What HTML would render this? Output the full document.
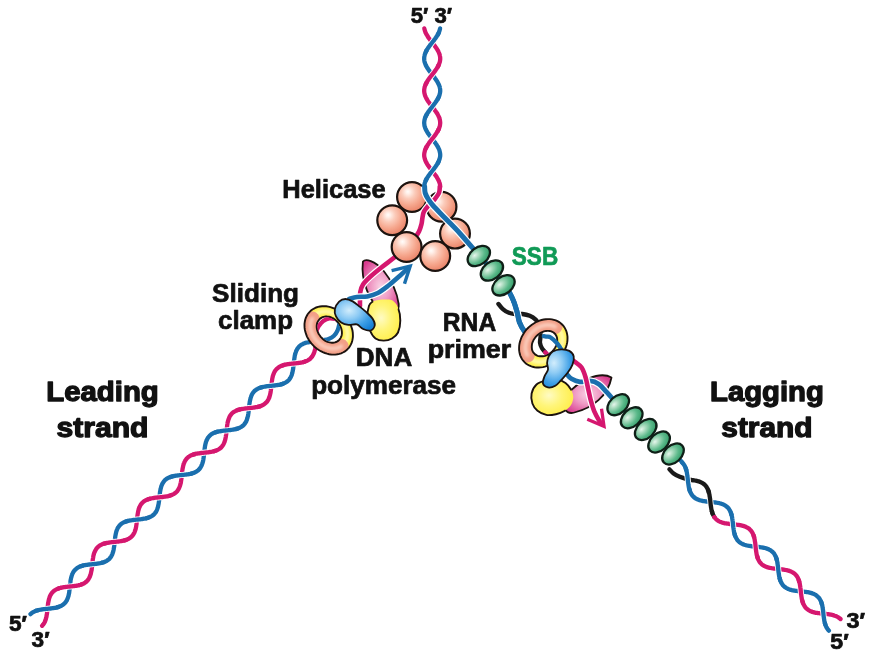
<!DOCTYPE html>
<html><head><meta charset="utf-8"><title>Replication fork</title>
<style>
html,body{margin:0;padding:0;background:#fff;}
svg{display:block;filter:blur(0.35px);}
text{font-family:"Liberation Sans",sans-serif;font-weight:bold;}
</style></head><body>
<svg width="878" height="670" viewBox="0 0 878 670">
<defs>
<filter id="blur" x="-20%" y="-20%" width="140%" height="140%"><feGaussianBlur stdDeviation="1.4"/></filter>
<radialGradient id="gSph" cx="0.40" cy="0.36" r="0.62" fx="0.36" fy="0.32">
 <stop offset="0" stop-color="#FFFDFB"/><stop offset="0.12" stop-color="#FFEFE8"/><stop offset="0.36" stop-color="#FBCBBA"/><stop offset="0.68" stop-color="#F6A88F"/><stop offset="1" stop-color="#EC886D"/>
</radialGradient>
<radialGradient id="gSSB" cx="0.42" cy="0.38" r="0.62" fx="0.38" fy="0.32">
 <stop offset="0" stop-color="#E6F6EC"/><stop offset="0.3" stop-color="#A5D9BB"/><stop offset="0.65" stop-color="#5BB98A"/><stop offset="1" stop-color="#359D6A"/>
</radialGradient>
<radialGradient id="gYel" cx="0.42" cy="0.45" r="0.6">
 <stop offset="0" stop-color="#FFFBC4"/><stop offset="0.5" stop-color="#FFF57A"/><stop offset="1" stop-color="#FFEE4A"/>
</radialGradient>
<radialGradient id="gBlu" cx="0.36" cy="0.36" r="0.75">
 <stop offset="0" stop-color="#D2EDFC"/><stop offset="0.35" stop-color="#8ECBF4"/><stop offset="0.7" stop-color="#3E9FE6"/><stop offset="1" stop-color="#1680D6"/>
</radialGradient>
<radialGradient id="gLeaf" cx="0.5" cy="0.5" r="0.6">
 <stop offset="0" stop-color="#F9D3E5"/><stop offset="0.45" stop-color="#EF9AC4"/><stop offset="1" stop-color="#D93B8E"/>
</radialGradient>

<clipPath id="noLeafL"><path clip-rule="evenodd" d="M0,0 H878 V670 H0 Z M362.9,261.6 C365.5,258.6 374.5,260.2 383.7,271.0 C391,280 397,292 398.7,304 C399.5,311 392,316 382,312 C370,302 360.5,282 362.9,261.6 Z"/></clipPath>
<clipPath id="holeL"><path d="M338.0,340.0 L337.3,340.6 L336.5,341.0 L335.7,341.4 L334.8,341.7 L333.8,341.9 L332.8,342.0 L331.8,342.0 L330.8,341.9 L329.8,341.7 L328.8,341.5 L327.7,341.1 L326.7,340.7 L325.7,340.1 L324.7,339.5 L323.8,338.8 L322.9,338.1 L322.0,337.2 L321.3,336.3 L320.5,335.4 L319.9,334.4 L319.3,333.4 L318.8,332.4 L318.3,331.3 L318.0,330.2 L317.7,329.2 L317.5,328.1 L317.4,327.0 L317.4,326.0 L317.5,324.9 L317.7,324.0 L318.0,323.0 L318.3,322.1 L318.8,321.3 L319.3,320.5 L319.9,319.8 L320.6,319.2 L321.3,318.6 L322.1,318.2 L322.9,317.8 L323.8,317.5 L324.8,317.3 L325.8,317.2 L326.8,317.2 L327.8,317.3 L328.8,317.5 L329.8,317.7 L330.9,318.1 L331.9,318.5 L332.9,319.1 L333.9,319.7 L334.8,320.4 L335.7,321.1 L336.6,322.0 L337.3,322.9 L338.1,323.8 L338.7,324.8 L339.3,325.8 L339.8,326.8 L340.3,327.9 L340.6,329.0 L340.9,330.0 L341.1,331.1 L341.2,332.2 L341.2,333.2 L341.1,334.3 L340.9,335.2 L340.6,336.2 L340.3,337.1 L339.8,337.9 L339.3,338.7 L338.7,339.4Z"/><path d="M333,300 L378,300 L378,332 L345,332 Z"/></clipPath>
<clipPath id="holeLo"><path d="M347.5,349.2 L346.1,350.5 L344.6,351.6 L342.9,352.5 L341.2,353.3 L339.3,353.9 L337.4,354.3 L335.3,354.6 L333.3,354.6 L331.2,354.5 L329.1,354.2 L327.0,353.7 L324.9,353.0 L322.8,352.2 L320.8,351.2 L318.8,350.0 L316.9,348.7 L315.1,347.3 L313.4,345.7 L311.8,344.0 L310.4,342.2 L309.1,340.3 L307.9,338.3 L306.9,336.3 L306.1,334.2 L305.4,332.1 L304.9,330.0 L304.6,327.9 L304.5,325.8 L304.5,323.8 L304.8,321.7 L305.2,319.8 L305.8,317.9 L306.6,316.2 L307.5,314.5 L308.6,313.0 L309.9,311.6 L311.3,310.3 L312.8,309.2 L314.5,308.3 L316.2,307.5 L318.1,306.9 L320.0,306.5 L322.1,306.2 L324.1,306.2 L326.2,306.3 L328.3,306.6 L330.4,307.1 L332.5,307.8 L334.6,308.6 L336.6,309.6 L338.6,310.8 L340.5,312.1 L342.3,313.5 L344.0,315.1 L345.6,316.8 L347.0,318.6 L348.3,320.5 L349.5,322.5 L350.5,324.5 L351.3,326.6 L352.0,328.7 L352.5,330.8 L352.8,332.9 L352.9,335.0 L352.9,337.0 L352.6,339.1 L352.2,341.0 L351.6,342.9 L350.8,344.6 L349.9,346.3 L348.8,347.8Z"/></clipPath>
<clipPath id="noLeafR"><path clip-rule="evenodd" d="M0,0 H878 V670 H0 Z M611.5,377.5 C600,371 578,380 566,396 C560,406 566,416 576,412 C592,408 608,396 611.5,377.5 Z"/></clipPath>
<clipPath id="holeR"><path d="M554.1,334.0 L554.7,334.7 L555.2,335.4 L555.7,336.2 L556.0,337.1 L556.3,338.0 L556.5,338.9 L556.6,339.9 L556.5,340.9 L556.4,341.9 L556.3,343.0 L556.0,344.1 L555.6,345.1 L555.2,346.1 L554.6,347.2 L554.0,348.1 L553.3,349.1 L552.6,350.0 L551.8,350.9 L550.9,351.7 L550.0,352.4 L549.0,353.1 L548.1,353.7 L547.0,354.3 L546.0,354.7 L545.0,355.1 L543.9,355.4 L542.9,355.6 L541.8,355.6 L540.8,355.7 L539.8,355.6 L538.9,355.4 L538.0,355.1 L537.1,354.8 L536.3,354.3 L535.6,353.8 L534.9,353.2 L534.3,352.5 L533.8,351.8 L533.3,351.0 L533.0,350.1 L532.7,349.2 L532.5,348.3 L532.4,347.3 L532.5,346.3 L532.6,345.3 L532.7,344.2 L533.0,343.1 L533.4,342.1 L533.8,341.1 L534.4,340.0 L535.0,339.1 L535.7,338.1 L536.4,337.2 L537.2,336.3 L538.1,335.5 L539.0,334.8 L540.0,334.1 L540.9,333.5 L542.0,332.9 L543.0,332.5 L544.0,332.1 L545.1,331.8 L546.1,331.7 L547.2,331.6 L548.2,331.5 L549.2,331.6 L550.1,331.8 L551.0,332.1 L551.9,332.4 L552.7,332.9 L553.4,333.4Z"/><path d="M552,338 L580,345 L580,392 L543,392 Z"/></clipPath>
<clipPath id="holeRo"><path d="M562.1,324.5 L563.4,325.9 L564.5,327.4 L565.4,329.1 L566.2,330.8 L566.8,332.7 L567.2,334.6 L567.5,336.7 L567.5,338.7 L567.4,340.8 L567.1,342.9 L566.6,345.0 L565.9,347.1 L565.1,349.2 L564.1,351.2 L562.9,353.2 L561.6,355.1 L560.2,356.9 L558.6,358.6 L556.9,360.2 L555.1,361.6 L553.2,362.9 L551.2,364.1 L549.2,365.1 L547.1,365.9 L545.0,366.6 L542.9,367.1 L540.8,367.4 L538.7,367.5 L536.7,367.5 L534.6,367.2 L532.7,366.8 L530.8,366.2 L529.1,365.4 L527.4,364.5 L525.9,363.4 L524.5,362.1 L523.2,360.7 L522.1,359.2 L521.2,357.5 L520.4,355.8 L519.8,353.9 L519.4,352.0 L519.1,349.9 L519.1,347.9 L519.2,345.8 L519.5,343.7 L520.0,341.6 L520.7,339.5 L521.5,337.4 L522.5,335.4 L523.7,333.4 L525.0,331.5 L526.4,329.7 L528.0,328.0 L529.7,326.4 L531.5,325.0 L533.4,323.7 L535.4,322.5 L537.4,321.5 L539.5,320.7 L541.6,320.0 L543.7,319.5 L545.8,319.2 L547.9,319.1 L549.9,319.1 L552.0,319.4 L553.9,319.8 L555.8,320.4 L557.5,321.2 L559.2,322.1 L560.7,323.2Z"/></clipPath></defs>
<rect width="878" height="670" fill="#ffffff"/>
<g id="helicase-back">
<circle cx="392.2" cy="220.2" r="14.9" fill="url(#gSph)" stroke="#1c130f" stroke-width="2.2"/>
<circle cx="412.0" cy="197.0" r="14.9" fill="url(#gSph)" stroke="#1c130f" stroke-width="2.2"/>
<circle cx="441.5" cy="206.7" r="14.9" fill="url(#gSph)" stroke="#1c130f" stroke-width="2.2"/>
<circle cx="455.0" cy="233.6" r="14.9" fill="url(#gSph)" stroke="#1c130f" stroke-width="2.2"/>
</g>
<path d="M362.9,261.6 C365.5,258.6 374.5,260.2 383.7,271.0 C391,280 397,292 398.7,304 C399.5,311 392,316 382,312 C370,302 360.5,282 362.9,261.6 Z" fill="url(#gLeaf)" stroke="#1c130f" stroke-width="1.8" stroke-linejoin="round"/>
<path d="M369.0,305.8 C370.0,302.9 371.5,302.4 373.1,301.4 C374.7,300.4 376.7,300.2 378.8,299.9 C380.9,299.6 383.7,299.5 386.0,299.6 C388.3,299.7 390.5,299.3 392.5,300.6 C394.5,301.9 396.7,304.2 398.0,307.5 C399.3,310.8 400.3,316.4 400.3,320.6 C400.3,324.8 399.4,329.5 398.0,332.5 C396.6,335.5 394.4,337.1 392.0,338.5 C389.6,339.9 386.4,340.6 383.7,340.6 C380.9,340.6 377.8,340.2 375.5,338.5 C373.2,336.8 371.4,333.8 370.0,330.5 C368.6,327.2 367.5,323.1 367.3,319.0 C367.1,314.9 368.0,308.7 369.0,305.8Z" fill="url(#gYel)"/>
<path d="M369.0,305.8 C370.0,302.9 371.5,302.4 373.1,301.4 C374.7,300.4 376.7,300.2 378.8,299.9 C380.9,299.6 383.7,299.5 386.0,299.6 C388.3,299.7 390.5,299.3 392.5,300.6 C394.5,301.9 396.7,304.2 398.0,307.5 C399.3,310.8 400.3,316.4 400.3,320.6 C400.3,324.8 399.4,329.5 398.0,332.5 C396.6,335.5 394.4,337.1 392.0,338.5 C389.6,339.9 386.4,340.6 383.7,340.6 C380.9,340.6 377.8,340.2 375.5,338.5 C373.2,336.8 371.4,333.8 370.0,330.5 C368.6,327.2 367.5,323.1 367.3,319.0 C367.1,314.9 368.0,308.7 369.0,305.8Z" fill="none" stroke="#1c130f" stroke-width="1.9" clip-path="url(#noLeafL)"/>
<path d="M439.8,186.5 C439.7,187.6 439.9,190.8 439.0,193.0 C438.1,195.2 436.2,197.4 434.5,199.5 C432.8,201.6 430.2,203.5 428.5,205.5 C426.8,207.5 425.0,209.5 424.0,211.5 C423.0,213.5 422.9,215.4 422.5,217.5 C422.1,219.6 422.1,221.7 421.5,224.0 C420.9,226.3 420.2,229.0 419.0,231.5 C417.8,234.0 416.2,236.2 414.0,239.0 C411.8,241.8 409.3,244.9 406.0,248.0 C402.7,251.1 398.0,254.6 394.0,257.8 C390.0,261.0 385.9,263.9 382.0,267.0 C378.1,270.1 373.7,273.6 370.5,276.5 C367.3,279.4 364.7,281.9 363.0,284.5 C361.3,287.1 360.8,289.4 360.3,292.0 C359.8,294.6 360.1,297.7 360.0,300.0 C359.9,302.3 360.0,305.0 360.0,306.0" fill="none" stroke="#ffffff" stroke-width="7.00" stroke-linecap="butt" stroke-linejoin="round" /><path d="M439.8,186.5 C439.7,187.6 439.9,190.8 439.0,193.0 C438.1,195.2 436.2,197.4 434.5,199.5 C432.8,201.6 430.2,203.5 428.5,205.5 C426.8,207.5 425.0,209.5 424.0,211.5 C423.0,213.5 422.9,215.4 422.5,217.5 C422.1,219.6 422.1,221.7 421.5,224.0 C420.9,226.3 420.2,229.0 419.0,231.5 C417.8,234.0 416.2,236.2 414.0,239.0 C411.8,241.8 409.3,244.9 406.0,248.0 C402.7,251.1 398.0,254.6 394.0,257.8 C390.0,261.0 385.9,263.9 382.0,267.0 C378.1,270.1 373.7,273.6 370.5,276.5 C367.3,279.4 364.7,281.9 363.0,284.5 C361.3,287.1 360.8,289.4 360.3,292.0 C359.8,294.6 360.1,297.7 360.0,300.0 C359.9,302.3 360.0,305.0 360.0,306.0" fill="none" stroke="#D5176F" stroke-width="4.60" stroke-linecap="round" stroke-linejoin="round" />
<path d="M349.0,299.0 C350.3,298.7 353.8,297.4 356.9,297.0 C359.9,296.6 363.8,297.1 367.3,296.4 C370.8,295.7 374.3,294.8 377.8,293.0 C381.3,291.2 384.7,288.5 388.2,285.8 C391.7,283.1 395.3,279.8 398.7,276.8 C402.1,273.8 406.7,269.4 408.3,267.9" fill="none" stroke="#ffffff" stroke-width="7.00" stroke-linecap="butt" stroke-linejoin="round" /><path d="M349.0,299.0 C350.3,298.7 353.8,297.4 356.9,297.0 C359.9,296.6 363.8,297.1 367.3,296.4 C370.8,295.7 374.3,294.8 377.8,293.0 C381.3,291.2 384.7,288.5 388.2,285.8 C391.7,283.1 395.3,279.8 398.7,276.8 C402.1,273.8 406.7,269.4 408.3,267.9" fill="none" stroke="#1A6FAE" stroke-width="4.60" stroke-linecap="round" stroke-linejoin="round" />
<path d="M391.6,270.6 L410.2,266.1 L404.5,283.8" fill="none" stroke="#1A6FAE" stroke-width="3.4" stroke-linejoin="miter" stroke-miterlimit="10" stroke-linecap="butt"/>
<circle cx="406.6" cy="247.0" r="14.9" fill="url(#gSph)" stroke="#1c130f" stroke-width="2.2"/>
<circle cx="435.2" cy="256.0" r="14.9" fill="url(#gSph)" stroke="#1c130f" stroke-width="2.2"/>
<g id="tophelix"><path d="M424.3,28.4 L424.5,29.2 L424.7,30.0 L424.9,30.8 L425.2,31.6 L425.5,32.5 L425.9,33.3 L426.3,34.1 L426.8,34.9 L427.3,35.7 L427.8,36.5 L428.3,37.4 L428.9,38.2 L429.5,39.0 L430.1,39.8 L430.7,40.6 L431.4,41.5 L432.0,42.3 L432.7,43.1 L433.3,43.9 L433.9,44.7 L434.5,45.5 L435.1,46.4 L435.7,47.2 L436.3,48.0 L436.8,48.8 L437.3,49.6 L437.8,50.5 L438.3,51.3 L438.6,52.1 L439.0,52.9 L439.3,53.7 L439.6,54.5 L439.8,55.4 L440.0,56.2 L440.1,57.0 L440.2,57.8 L440.2,58.6 L440.2,59.5 L440.1,60.3 L440.0,61.1 L439.8,61.9 L439.5,62.7 L439.3,63.5 L438.9,64.4 L438.6,65.2 L438.2,66.0 L437.7,66.8 L437.3,67.6 L436.7,68.4 L436.2,69.3 L435.6,70.1 L435.0,70.9 L434.4,71.7 L433.8,72.5 L433.2,73.4 L432.6,74.2 L431.9,75.0 L431.3,75.8 L430.6,76.6 L430.0,77.4 L429.4,78.3 L428.8,79.1 L428.3,79.9 L427.7,80.7 L427.2,81.5 L426.7,82.4 L426.3,83.2 L425.9,84.0 L425.5,84.8 L425.2,85.6 L424.9,86.4 L424.6,87.3 L424.5,88.1 L424.3,88.9 L424.2,89.7 L424.2,90.5 L424.2,91.4 L424.3,92.2 L424.4,93.0 L424.6,93.8 L424.8,94.6 L425.0,95.4 L425.4,96.3 L425.7,97.1 L426.1,97.9 L426.5,98.7 L427.0,99.5 L427.5,100.4 L428.0,101.2 L428.6,102.0 L429.2,102.8 L429.8,103.6 L430.4,104.4 L431.0,105.3 L431.7,106.1 L432.3,106.9 L433.0,107.7 L433.6,108.5 L434.2,109.3 L434.8,110.2 L435.4,111.0 L436.0,111.8 L436.5,112.6 L437.1,113.4 L437.6,114.3 L438.0,115.1 L438.4,115.9 L438.8,116.7 L439.2,117.5 L439.4,118.3 L439.7,119.2 L439.9,120.0 L440.0,120.8 L440.1,121.6 L440.2,122.4 L440.2,123.3 L440.1,124.1 L440.0,124.9 L439.9,125.7 L439.7,126.5 L439.4,127.3 L439.1,128.2 L438.8,129.0 L438.4,129.8 L438.0,130.6 L437.5,131.4 L437.0,132.3 L436.5,133.1 L435.9,133.9 L435.4,134.7 L434.8,135.5 L434.2,136.3 L433.5,137.2 L432.9,138.0 L432.3,138.8 L431.6,139.6 L431.0,140.4 L430.4,141.3 L429.7,142.1 L429.1,142.9 L428.6,143.7 L428.0,144.5 L427.5,145.3 L427.0,146.2 L426.5,147.0 L426.1,147.8 L425.7,148.6 L425.3,149.4 L425.0,150.3 L424.8,151.1 L424.6,151.9 L424.4,152.7 L424.3,153.5 L424.2,154.3 L424.2,155.2 L424.2,156.0 L424.3,156.8 L424.5,157.6 L424.7,158.4 L424.9,159.2 L425.2,160.1 L425.5,160.9 L425.9,161.7 L426.3,162.5 L426.8,163.3 L427.2,164.2 L427.8,165.0 L428.3,165.8 L428.9,166.6 L429.5,167.4 L430.1,168.2 L430.7,169.1 L431.3,169.9 L432.0,170.7 L432.6,171.5 L433.2,172.3 L433.9,173.2 L434.5,174.0 L435.1,174.8 L435.7,175.6 L436.3,176.4 L436.8,177.2 L437.3,178.1 L437.8,178.9 L438.2,179.7 L438.6,180.5 L439.0,181.3 L439.3,182.2 L439.6,183.0 L439.8,183.8 L440.0,184.6 L440.1,185.4 L440.2,186.2 L440.2,187.1" fill="none" stroke="#D5176F" stroke-width="4.30" stroke-linecap="round" stroke-linejoin="round" />
<path d="M440.1,28.4 L439.9,29.2 L439.7,30.0 L439.5,30.8 L439.2,31.6 L438.9,32.5 L438.5,33.3 L438.1,34.1 L437.6,34.9 L437.1,35.7 L436.6,36.5 L436.1,37.4 L435.5,38.2 L434.9,39.0 L434.3,39.8 L433.7,40.6 L433.0,41.5 L432.4,42.3 L431.7,43.1 L431.1,43.9 L430.5,44.7 L429.9,45.5 L429.3,46.4 L428.7,47.2 L428.1,48.0 L427.6,48.8 L427.1,49.6 L426.6,50.5 L426.1,51.3 L425.8,52.1 L425.4,52.9 L425.1,53.7 L424.8,54.5 L424.6,55.4 L424.4,56.2 L424.3,57.0 L424.2,57.8 L424.2,58.6 L424.2,59.5 L424.3,60.3 L424.4,61.1 L424.6,61.9 L424.9,62.7 L425.1,63.5 L425.5,64.4 L425.8,65.2 L426.2,66.0 L426.7,66.8 L427.1,67.6 L427.7,68.4 L428.2,69.3 L428.8,70.1 L429.4,70.9 L430.0,71.7 L430.6,72.5 L431.2,73.4 L431.8,74.2 L432.5,75.0 L433.1,75.8 L433.8,76.6 L434.4,77.4 L435.0,78.3 L435.6,79.1 L436.1,79.9 L436.7,80.7 L437.2,81.5 L437.7,82.4 L438.1,83.2 L438.5,84.0 L438.9,84.8 L439.2,85.6 L439.5,86.4 L439.8,87.3 L439.9,88.1 L440.1,88.9 L440.2,89.7 L440.2,90.5 L440.2,91.4 L440.1,92.2 L440.0,93.0 L439.8,93.8 L439.6,94.6 L439.4,95.4 L439.0,96.3 L438.7,97.1 L438.3,97.9 L437.9,98.7 L437.4,99.5 L436.9,100.4 L436.4,101.2 L435.8,102.0 L435.2,102.8 L434.6,103.6 L434.0,104.4 L433.4,105.3 L432.7,106.1 L432.1,106.9 L431.4,107.7 L430.8,108.5 L430.2,109.3 L429.6,110.2 L429.0,111.0 L428.4,111.8 L427.9,112.6 L427.3,113.4 L426.8,114.3 L426.4,115.1 L426.0,115.9 L425.6,116.7 L425.2,117.5 L425.0,118.3 L424.7,119.2 L424.5,120.0 L424.4,120.8 L424.3,121.6 L424.2,122.4 L424.2,123.3 L424.3,124.1 L424.4,124.9 L424.5,125.7 L424.7,126.5 L425.0,127.3 L425.3,128.2 L425.6,129.0 L426.0,129.8 L426.4,130.6 L426.9,131.4 L427.4,132.3 L427.9,133.1 L428.5,133.9 L429.0,134.7 L429.6,135.5 L430.2,136.3 L430.9,137.2 L431.5,138.0 L432.1,138.8 L432.8,139.6 L433.4,140.4 L434.0,141.3 L434.7,142.1 L435.3,142.9 L435.8,143.7 L436.4,144.5 L436.9,145.3 L437.4,146.2 L437.9,147.0 L438.3,147.8 L438.7,148.6 L439.1,149.4 L439.4,150.3 L439.6,151.1 L439.8,151.9 L440.0,152.7 L440.1,153.5 L440.2,154.3 L440.2,155.2 L440.2,156.0 L440.1,156.8 L439.9,157.6 L439.7,158.4 L439.5,159.2 L439.2,160.1 L438.9,160.9 L438.5,161.7 L438.1,162.5 L437.6,163.3 L437.2,164.2 L436.6,165.0 L436.1,165.8 L435.5,166.6 L434.9,167.4 L434.3,168.2 L433.7,169.1 L433.1,169.9 L432.4,170.7 L431.8,171.5 L431.2,172.3 L430.5,173.2 L429.9,174.0 L429.3,174.8 L428.7,175.6 L428.1,176.4 L427.6,177.2 L427.1,178.1 L426.6,178.9 L426.2,179.7 L425.8,180.5 L425.4,181.3 L425.1,182.2 L424.8,183.0 L424.6,183.8 L424.4,184.6 L424.3,185.4 L424.2,186.2 L424.2,187.1" fill="none" stroke="#1A6FAE" stroke-width="4.30" stroke-linecap="round" stroke-linejoin="round" />
<path d="M437.3,35.4 L436.8,36.2 L436.3,37.0 L435.8,37.8 L435.2,38.6 L434.6,39.4 L434.0,40.1 L433.4,40.9 L432.8,41.7 L432.2,42.5 L431.6,43.3 L431.0,44.1 L430.4,44.9 L429.8,45.6 L429.2,46.4 L428.6,47.2 L428.1,48.0 L427.6,48.8 L427.1,49.6" fill="none" stroke="#ffffff" stroke-width="6.00" stroke-linecap="butt" stroke-linejoin="round" />
<path d="M438.7,32.9 L438.3,33.7 L437.9,34.5 L437.4,35.3 L436.9,36.1 L436.4,36.9 L435.8,37.7 L435.3,38.5 L434.7,39.3 L434.1,40.1 L433.5,40.9 L432.8,41.7 L432.2,42.5 L431.6,43.3 L430.9,44.1 L430.3,44.9 L429.7,45.7 L429.1,46.5 L428.6,47.3 L428.0,48.1 L427.5,48.9 L427.0,49.7 L426.5,50.5 L426.1,51.3 L425.7,52.1" fill="none" stroke="#1A6FAE" stroke-width="4.30" stroke-linecap="round" stroke-linejoin="round" />
<path d="M437.3,67.6 L436.8,68.3 L436.3,69.1 L435.8,69.9 L435.2,70.7 L434.6,71.5 L434.0,72.3 L433.4,73.1 L432.8,73.8 L432.2,74.6 L431.6,75.4 L431.0,76.2 L430.4,77.0 L429.8,77.8 L429.2,78.6 L428.6,79.3 L428.1,80.1 L427.6,80.9 L427.1,81.7" fill="none" stroke="#ffffff" stroke-width="6.00" stroke-linecap="butt" stroke-linejoin="round" />
<path d="M438.7,65.0 L438.3,65.8 L437.9,66.6 L437.4,67.4 L436.9,68.2 L436.4,69.0 L435.8,69.8 L435.3,70.6 L434.7,71.4 L434.1,72.2 L433.5,73.0 L432.8,73.8 L432.2,74.6 L431.6,75.4 L430.9,76.2 L430.3,77.0 L429.7,77.8 L429.1,78.6 L428.6,79.4 L428.0,80.2 L427.5,81.0 L427.0,81.9 L426.5,82.7 L426.1,83.5 L425.7,84.3" fill="none" stroke="#D5176F" stroke-width="4.30" stroke-linecap="round" stroke-linejoin="round" />
<path d="M437.3,99.7 L436.8,100.5 L436.3,101.3 L435.8,102.0 L435.2,102.8 L434.6,103.6 L434.0,104.4 L433.4,105.2 L432.8,106.0 L432.2,106.8 L431.6,107.5 L431.0,108.3 L430.4,109.1 L429.8,109.9 L429.2,110.7 L428.6,111.5 L428.1,112.2 L427.6,113.0 L427.1,113.8" fill="none" stroke="#ffffff" stroke-width="6.00" stroke-linecap="butt" stroke-linejoin="round" />
<path d="M438.7,97.1 L438.3,97.9 L437.9,98.7 L437.4,99.5 L436.9,100.3 L436.4,101.1 L435.8,101.9 L435.3,102.7 L434.7,103.5 L434.1,104.3 L433.5,105.1 L432.8,105.9 L432.2,106.8 L431.6,107.6 L430.9,108.4 L430.3,109.2 L429.7,110.0 L429.1,110.8 L428.6,111.6 L428.0,112.4 L427.5,113.2 L427.0,114.0 L426.5,114.8 L426.1,115.6 L425.7,116.4" fill="none" stroke="#1A6FAE" stroke-width="4.30" stroke-linecap="round" stroke-linejoin="round" />
<path d="M437.3,131.8 L436.8,132.6 L436.3,133.4 L435.8,134.2 L435.2,134.9 L434.6,135.7 L434.0,136.5 L433.4,137.3 L432.8,138.1 L432.2,138.9 L431.6,139.7 L431.0,140.4 L430.4,141.2 L429.8,142.0 L429.2,142.8 L428.6,143.6 L428.1,144.4 L427.6,145.2 L427.1,145.9" fill="none" stroke="#ffffff" stroke-width="6.00" stroke-linecap="butt" stroke-linejoin="round" />
<path d="M438.7,129.2 L438.3,130.0 L437.9,130.8 L437.4,131.6 L436.9,132.4 L436.4,133.3 L435.8,134.1 L435.3,134.9 L434.7,135.7 L434.1,136.5 L433.5,137.3 L432.8,138.1 L432.2,138.9 L431.6,139.7 L430.9,140.5 L430.3,141.3 L429.7,142.1 L429.1,142.9 L428.6,143.7 L428.0,144.5 L427.5,145.3 L427.0,146.1 L426.5,146.9 L426.1,147.7 L425.7,148.5" fill="none" stroke="#D5176F" stroke-width="4.30" stroke-linecap="round" stroke-linejoin="round" />
<path d="M437.3,163.9 L436.8,164.7 L436.3,165.5 L435.8,166.3 L435.2,167.1 L434.6,167.9 L434.0,168.6 L433.4,169.4 L432.8,170.2 L432.2,171.0 L431.6,171.8 L431.0,172.6 L430.4,173.4 L429.8,174.1 L429.2,174.9 L428.6,175.7 L428.1,176.5 L427.6,177.3 L427.1,178.1" fill="none" stroke="#ffffff" stroke-width="6.00" stroke-linecap="butt" stroke-linejoin="round" />
<path d="M438.7,161.4 L438.3,162.2 L437.9,163.0 L437.4,163.8 L436.9,164.6 L436.4,165.4 L435.8,166.2 L435.3,167.0 L434.7,167.8 L434.1,168.6 L433.5,169.4 L432.8,170.2 L432.2,171.0 L431.6,171.8 L430.9,172.6 L430.3,173.4 L429.7,174.2 L429.1,175.0 L428.6,175.8 L428.0,176.6 L427.5,177.4 L427.0,178.2 L426.5,179.0 L426.1,179.8 L425.7,180.6" fill="none" stroke="#1A6FAE" stroke-width="4.30" stroke-linecap="round" stroke-linejoin="round" /></g>
<path d="M424.6,186.5 C424.7,187.6 424.6,190.8 425.2,193.0 C425.8,195.2 427.2,197.4 428.5,199.5 C429.8,201.6 430.2,202.4 433.0,205.5 C435.8,208.6 440.5,213.3 445.0,218.0 C449.5,222.7 454.4,227.3 460.0,233.5 C465.6,239.7 475.6,251.5 478.7,255.1" fill="none" stroke="#ffffff" stroke-width="7.40" stroke-linecap="butt" stroke-linejoin="round" /><path d="M424.6,186.5 C424.7,187.6 424.6,190.8 425.2,193.0 C425.8,195.2 427.2,197.4 428.5,199.5 C429.8,201.6 430.2,202.4 433.0,205.5 C435.8,208.6 440.5,213.3 445.0,218.0 C449.5,222.7 454.4,227.3 460.0,233.5 C465.6,239.7 475.6,251.5 478.7,255.1" fill="none" stroke="#1A6FAE" stroke-width="5.00" stroke-linecap="round" stroke-linejoin="round" />
<path d="M478.7,255.1 C480.9,257.6 487.9,265.2 492.1,270.3 C496.3,275.4 500.8,281.8 503.7,285.5 C506.6,289.2 507.9,289.9 509.6,292.7 C511.3,295.5 512.9,299.2 514.1,302.4 C515.4,305.6 516.2,308.9 517.1,312.1 C518.0,315.3 518.0,318.6 519.3,321.8 C520.5,325.0 522.6,328.8 524.6,331.5 C526.6,334.2 529.9,336.9 531.0,338.0" fill="none" stroke="#1A6FAE" stroke-width="5.00" stroke-linecap="round" stroke-linejoin="round" />
<path d="M498.4,303.9 C499.1,304.8 501.1,307.6 502.9,309.1 C504.6,310.6 506.9,312.0 508.9,312.8 C510.9,313.6 512.7,313.8 514.9,314.0 C517.1,314.2 519.8,313.7 522.3,314.0 C524.8,314.3 527.6,314.9 529.8,315.8 C532.0,316.7 534.2,318.2 535.7,319.6 C537.2,321.0 538.5,323.3 539.0,324.0" fill="none" stroke="#1a1a1a" stroke-width="4.30" stroke-linecap="round" stroke-linejoin="round" />
<path d="M514.1,302.4 C514.6,304.0 516.2,308.9 517.1,312.1 C518.0,315.3 518.9,320.2 519.3,321.8" fill="none" stroke="#ffffff" stroke-width="7.40" stroke-linecap="butt" stroke-linejoin="round" /><path d="M514.1,302.4 C514.6,304.0 516.2,308.9 517.1,312.1 C518.0,315.3 518.9,320.2 519.3,321.8" fill="none" stroke="#1A6FAE" stroke-width="5.00" stroke-linecap="round" stroke-linejoin="round" />
<path d="M509.6,292.7 C510.4,294.3 512.9,299.2 514.1,302.4 C515.4,305.6 516.2,308.9 517.1,312.1 C518.0,315.3 518.0,318.6 519.3,321.8 C520.5,325.0 522.6,328.8 524.6,331.5 C526.6,334.2 529.9,336.9 531.0,338.0" fill="none" stroke="#1A6FAE" stroke-width="5.00" stroke-linecap="round" stroke-linejoin="round" />
<ellipse cx="0" cy="0" rx="12.5" ry="8.5" transform="translate(503.5,285.3) rotate(-38)" fill="url(#gSSB)" stroke="#0f1f17" stroke-width="2.3"/>
<ellipse cx="0" cy="0" rx="12.5" ry="8.5" transform="translate(491.9,270.5) rotate(-38)" fill="url(#gSSB)" stroke="#0f1f17" stroke-width="2.3"/>
<ellipse cx="0" cy="0" rx="12.5" ry="8.5" transform="translate(478.8,256.0) rotate(-38)" fill="url(#gSSB)" stroke="#0f1f17" stroke-width="2.3"/>
<g id="lefthelix"><path d="M312.1,341.6 L311.1,341.8 L310.1,341.9 L309.2,342.1 L308.2,342.3 L307.3,342.5 L306.4,342.7 L305.5,342.9 L304.6,343.2 L303.8,343.5 L303.0,343.9 L302.3,344.3 L301.5,344.7 L300.8,345.1 L300.2,345.6 L299.6,346.1 L299.0,346.7 L298.5,347.3 L298.0,347.9 L297.5,348.6 L297.1,349.3 L296.7,350.1 L296.3,350.8 L296.0,351.6 L295.7,352.5 L295.4,353.3 L295.2,354.2 L294.9,355.2 L294.7,356.1 L294.6,357.1 L294.4,358.1 L294.3,359.1 L294.1,360.1 L294.0,361.1 L293.9,362.1 L293.8,363.1 L293.7,364.2 L293.6,365.2 L293.5,366.2 L293.3,367.2 L293.2,368.3 L293.1,369.2 L292.9,370.2 L292.7,371.2 L292.5,372.1 L292.3,373.0 L292.0,373.9 L291.8,374.8 L291.5,375.6 L291.1,376.4 L290.7,377.2 L290.3,377.9 L289.9,378.6 L289.4,379.3 L288.9,379.9 L288.3,380.5 L287.8,381.0 L287.1,381.5 L286.5,382.0 L285.8,382.4 L285.0,382.8 L284.3,383.2 L283.5,383.6 L282.6,383.9 L281.8,384.1 L280.9,384.4 L280.0,384.6 L279.0,384.8 L278.1,385.0 L277.1,385.1 L276.1,385.3 L275.1,385.4 L274.1,385.5 L273.0,385.6 L272.0,385.7 L271.0,385.8 L270.0,385.9 L268.9,386.1 L267.9,386.2 L266.9,386.3 L265.9,386.4 L264.9,386.6 L263.9,386.8 L263.0,386.9 L262.1,387.2 L261.2,387.4 L260.3,387.7 L259.5,388.0 L258.7,388.3 L257.9,388.7 L257.2,389.1 L256.4,389.5 L255.8,390.0 L255.1,390.5 L254.5,391.0 L254.0,391.6 L253.5,392.2 L253.0,392.8 L252.5,393.5 L252.1,394.2 L251.7,395.0 L251.4,395.8 L251.1,396.6 L250.8,397.5 L250.5,398.3 L250.3,399.3 L250.1,400.2 L249.9,401.1 L249.7,402.1 L249.6,403.1 L249.4,404.1 L249.3,405.1 L249.2,406.1 L249.1,407.2 L249.0,408.2 L248.9,409.2 L248.8,410.3 L248.6,411.3 L248.5,412.3 L248.4,413.3 L248.2,414.3 L248.1,415.3 L247.9,416.2 L247.6,417.1 L247.4,418.0 L247.1,418.9 L246.9,419.8 L246.5,420.6 L246.2,421.4 L245.8,422.1 L245.4,422.8 L244.9,423.5 L244.4,424.1 L243.9,424.8 L243.3,425.3 L242.7,425.9 L242.1,426.3 L241.4,426.8 L240.7,427.2 L239.9,427.6 L239.1,428.0 L238.3,428.3 L237.5,428.6 L236.6,428.8 L235.7,429.1 L234.8,429.3 L233.8,429.5 L232.9,429.6 L231.9,429.8 L230.9,429.9 L229.9,430.1 L228.8,430.2 L227.8,430.3 L226.8,430.4 L225.7,430.5 L224.7,430.6 L223.7,430.7 L222.7,430.8 L221.7,431.0 L220.7,431.1 L219.7,431.3 L218.7,431.4 L217.8,431.6 L216.9,431.9 L216.0,432.1 L215.2,432.4 L214.3,432.7 L213.5,433.1 L212.8,433.4 L212.1,433.8 L211.4,434.3 L210.7,434.8 L210.1,435.3 L209.5,435.9 L209.0,436.4 L208.5,437.1 L208.0,437.7 L207.6,438.4 L207.2,439.2 L206.8,440.0 L206.5,440.8 L206.1,441.6 L205.9,442.5 L205.6,443.4 L205.4,444.3 L205.2,445.2 L205.0,446.2 L204.9,447.2 L204.7,448.2 L204.6,449.2 L204.5,450.2 L204.4,451.2 L204.3,452.2 L204.2,453.3 L204.0,454.3 L203.9,455.3 L203.8,456.3 L203.7,457.4 L203.5,458.4 L203.4,459.3 L203.2,460.3 L203.0,461.2 L202.8,462.1 L202.5,463.0 L202.2,463.9 L201.9,464.7 L201.6,465.5 L201.2,466.3 L200.8,467.0 L200.4,467.7 L199.9,468.4 L199.4,469.0 L198.9,469.6 L198.3,470.2 L197.6,470.7 L197.0,471.2 L196.3,471.6 L195.6,472.0 L194.8,472.4 L194.0,472.7 L193.2,473.0 L192.3,473.3 L191.4,473.6 L190.5,473.8 L189.6,474.0 L188.6,474.2 L187.6,474.3 L186.6,474.5 L185.6,474.6 L184.6,474.7 L183.6,474.8 L182.6,474.9 L181.5,475.0 L180.5,475.1 L179.5,475.2 L178.5,475.4 L177.4,475.5 L176.4,475.6 L175.5,475.8 L174.5,475.9 L173.5,476.1 L172.6,476.3 L171.7,476.6 L170.9,476.8 L170.0,477.1 L169.2,477.5 L168.4,477.8 L167.7,478.2 L167.0,478.6 L166.3,479.1 L165.7,479.6 L165.0,480.1 L164.5,480.7 L164.0,481.3 L163.5,482.0 L163.0,482.7 L162.6,483.4 L162.2,484.1 L161.9,484.9 L161.5,485.7 L161.2,486.6 L161.0,487.5 L160.8,488.4 L160.5,489.3 L160.4,490.2 L160.2,491.2 L160.0,492.2 L159.9,493.2 L159.8,494.2 L159.7,495.2 L159.5,496.3 L159.4,497.3 L159.3,498.3 L159.2,499.4 L159.1,500.4 L159.0,501.4 L158.8,502.4 L158.7,503.4 L158.5,504.4 L158.3,505.3 L158.1,506.2 L157.9,507.2 L157.6,508.0 L157.3,508.9 L157.0,509.7 L156.7,510.5 L156.3,511.2 L155.9,512.0 L155.4,512.6 L154.9,513.3 L154.4,513.9 L153.8,514.5 L153.2,515.0 L152.6,515.5 L151.9,516.0 L151.2,516.4 L150.4,516.8 L149.7,517.1 L148.9,517.5 L148.0,517.8 L147.1,518.0 L146.2,518.3 L145.3,518.5 L144.4,518.7 L143.4,518.8 L142.4,519.0 L141.4,519.1 L140.4,519.2 L139.4,519.4 L138.4,519.5 L137.3,519.6 L136.3,519.7 L135.3,519.8 L134.2,519.9 L133.2,520.0 L132.2,520.1 L131.2,520.3 L130.2,520.4 L129.3,520.6 L128.3,520.8 L127.4,521.0 L126.6,521.3 L125.7,521.6 L124.9,521.9 L124.1,522.2 L123.3,522.6 L122.6,523.0 L121.9,523.4 L121.2,523.9 L120.6,524.4 L120.0,525.0 L119.5,525.6 L119.0,526.2 L118.5,526.9 L118.0,527.6 L117.6,528.3 L117.3,529.1 L116.9,529.9 L116.6,530.7 L116.3,531.6 L116.1,532.5 L115.9,533.4 L115.7,534.3 L115.5,535.3 L115.3,536.3 L115.2,537.3 L115.1,538.3 L114.9,539.3 L114.8,540.3 L114.7,541.3 L114.6,542.4 L114.5,543.4 L114.4,544.4 L114.3,545.5 L114.1,546.5 L114.0,547.5 L113.8,548.4 L113.7,549.4 L113.5,550.3 L113.2,551.3 L113.0,552.2 L112.7,553.0 L112.4,553.9 L112.1,554.7 L111.7,555.4 L111.3,556.2 L110.9,556.9 L110.4,557.5 L109.9,558.2 L109.4,558.8 L108.8,559.3 L108.2,559.8 L107.5,560.3 L106.8,560.8 L106.1,561.2 L105.3,561.5 L104.5,561.9 L103.7,562.2 L102.8,562.5 L102.0,562.7 L101.1,563.0 L100.1,563.2 L99.2,563.3 L98.2,563.5 L97.2,563.6 L96.2,563.8 L95.2,563.9 L94.1,564.0 L93.1,564.1 L92.1,564.2 L91.1,564.3 L90.0,564.4 L89.0,564.5 L88.0,564.7 L87.0,564.8 L86.0,565.0 L85.0,565.1 L84.1,565.3 L83.2,565.5 L82.3,565.8 L81.4,566.0 L80.5,566.3 L79.7,566.6 L78.9,567.0 L78.2,567.4 L77.5,567.8 L76.8,568.3 L76.2,568.8 L75.6,569.3 L75.0,569.9 L74.5,570.5 L74.0,571.1 L73.5,571.8 L73.1,572.5 L72.7,573.3 L72.3,574.0 L72.0,574.9 L71.7,575.7 L71.5,576.6 L71.2,577.5 L71.0,578.4 L70.8,579.4 L70.6,580.3 L70.5,581.3 L70.4,582.3 L70.2,583.3 L70.1,584.3 L70.0,585.4 L69.9,586.4 L69.8,587.4 L69.7,588.5 L69.6,589.5 L69.4,590.5 L69.3,591.5 L69.2,592.5 L69.0,593.5 L68.8,594.4 L68.6,595.4 L68.4,596.3 L68.1,597.1 L67.8,598.0 L67.5,598.8 L67.1,599.6 L66.8,600.4 L66.3,601.1 L65.9,601.8 L65.4,602.4 L64.9,603.0 L64.3,603.6 L63.7,604.2 L63.1,604.7 L62.4,605.1 L61.7,605.6 L61.0,605.9 L60.2,606.3 L59.4,606.6 L58.5,606.9 L57.7,607.2 L56.8,607.4 L55.9,607.7 L54.9,607.8 L53.9,608.0 L53.0,608.2 L52.0,608.3 L51.0,608.4 L49.9,608.5 L48.9,608.7 L47.9,608.8 L46.8,608.9 L45.8,609.0 L44.8,609.1 L43.8,609.2 L42.8,609.3 L41.8,609.5 L40.8,609.6 L39.8,609.8 L38.9,610.0 L38.0,610.2 L37.1,610.5 L36.2,610.7 L35.4,611.1 L34.6,611.4 L33.8,611.8 L33.1,612.2 L32.4,612.6 L31.7,613.1 L31.1,613.6 L30.5,614.1" fill="none" stroke="#1A6FAE" stroke-width="4.30" stroke-linecap="round" stroke-linejoin="round" />
<path d="M315.7,345.2 L315.6,346.2 L315.4,347.2 L315.2,348.2 L315.1,349.1 L314.9,350.1 L314.6,351.0 L314.4,351.9 L314.1,352.7 L313.8,353.5 L313.4,354.3 L313.0,355.1 L312.6,355.8 L312.2,356.5 L311.7,357.1 L311.1,357.7 L310.6,358.3 L310.0,358.9 L309.3,359.4 L308.7,359.8 L308.0,360.3 L307.2,360.7 L306.4,361.0 L305.6,361.3 L304.8,361.6 L303.9,361.9 L303.0,362.1 L302.1,362.4 L301.2,362.5 L300.2,362.7 L299.2,362.9 L298.2,363.0 L297.2,363.1 L296.2,363.3 L295.2,363.4 L294.1,363.5 L293.1,363.6 L292.1,363.7 L291.0,363.8 L290.0,363.9 L289.0,364.0 L288.0,364.2 L287.0,364.3 L286.1,364.5 L285.1,364.7 L284.2,364.9 L283.3,365.2 L282.5,365.5 L281.6,365.8 L280.8,366.1 L280.1,366.5 L279.3,366.9 L278.6,367.3 L278.0,367.8 L277.4,368.3 L276.8,368.8 L276.2,369.4 L275.7,370.1 L275.2,370.7 L274.8,371.4 L274.4,372.1 L274.0,372.9 L273.7,373.7 L273.4,374.5 L273.1,375.4 L272.8,376.3 L272.6,377.2 L272.4,378.1 L272.2,379.1 L272.1,380.1 L271.9,381.1 L271.8,382.1 L271.7,383.1 L271.6,384.1 L271.4,385.2 L271.3,386.2 L271.2,387.2 L271.1,388.2 L271.0,389.3 L270.9,390.3 L270.7,391.3 L270.6,392.3 L270.4,393.2 L270.2,394.2 L270.0,395.1 L269.7,396.0 L269.5,396.8 L269.2,397.7 L268.8,398.5 L268.5,399.3 L268.1,400.0 L267.6,400.7 L267.2,401.4 L266.7,402.0 L266.1,402.6 L265.5,403.2 L264.9,403.7 L264.3,404.2 L263.6,404.6 L262.9,405.0 L262.1,405.4 L261.3,405.8 L260.5,406.1 L259.6,406.4 L258.7,406.6 L257.8,406.8 L256.9,407.0 L256.0,407.2 L255.0,407.4 L254.0,407.5 L253.0,407.7 L252.0,407.8 L250.9,407.9 L249.9,408.0 L248.9,408.1 L247.8,408.2 L246.8,408.3 L245.8,408.4 L244.8,408.6 L243.8,408.7 L242.8,408.8 L241.8,409.0 L240.9,409.2 L239.9,409.4 L239.0,409.6 L238.2,409.9 L237.3,410.2 L236.5,410.5 L235.7,410.9 L235.0,411.2 L234.2,411.7 L233.6,412.1 L232.9,412.6 L232.3,413.1 L231.7,413.7 L231.2,414.3 L230.7,415.0 L230.3,415.6 L229.8,416.3 L229.4,417.1 L229.1,417.9 L228.8,418.7 L228.5,419.5 L228.2,420.4 L228.0,421.3 L227.7,422.2 L227.5,423.2 L227.4,424.1 L227.2,425.1 L227.1,426.1 L227.0,427.1 L226.8,428.2 L226.7,429.2 L226.6,430.2 L226.5,431.3 L226.4,432.3 L226.3,433.3 L226.2,434.3 L226.0,435.3 L225.9,436.3 L225.7,437.3 L225.5,438.3 L225.3,439.2 L225.1,440.1 L224.8,441.0 L224.6,441.8 L224.2,442.7 L223.9,443.4 L223.5,444.2 L223.1,444.9 L222.6,445.6 L222.2,446.3 L221.6,446.9 L221.1,447.5 L220.5,448.0 L219.9,448.5 L219.2,449.0 L218.5,449.4 L217.7,449.8 L217.0,450.2 L216.2,450.5 L215.3,450.8 L214.5,451.1 L213.6,451.3 L212.6,451.5 L211.7,451.7 L210.7,451.9 L209.8,452.1 L208.8,452.2 L207.7,452.3 L206.7,452.4 L205.7,452.5 L204.7,452.7 L203.6,452.8 L202.6,452.9 L201.6,453.0 L200.6,453.1 L199.6,453.2 L198.6,453.4 L197.6,453.5 L196.6,453.7 L195.7,453.9 L194.8,454.1 L193.9,454.4 L193.0,454.6 L192.2,454.9 L191.4,455.3 L190.6,455.6 L189.9,456.0 L189.2,456.5 L188.5,456.9 L187.9,457.4 L187.3,458.0 L186.7,458.6 L186.2,459.2 L185.7,459.9 L185.3,460.5 L184.9,461.3 L184.5,462.0 L184.2,462.8 L183.8,463.7 L183.6,464.5 L183.3,465.4 L183.1,466.3 L182.9,467.3 L182.7,468.2 L182.5,469.2 L182.4,470.2 L182.2,471.2 L182.1,472.2 L182.0,473.2 L181.9,474.3 L181.8,475.3 L181.7,476.3 L181.6,477.4 L181.5,478.4 L181.3,479.4 L181.2,480.4 L181.0,481.4 L180.9,482.3 L180.7,483.3 L180.4,484.2 L180.2,485.1 L179.9,486.0 L179.6,486.8 L179.3,487.6 L178.9,488.4 L178.6,489.1 L178.1,489.8 L177.7,490.5 L177.2,491.2 L176.6,491.8 L176.0,492.3 L175.4,492.8 L174.8,493.3 L174.1,493.8 L173.4,494.2 L172.6,494.6 L171.8,494.9 L171.0,495.2 L170.2,495.5 L169.3,495.8 L168.4,496.0 L167.4,496.2 L166.5,496.4 L165.5,496.6 L164.5,496.7 L163.5,496.9 L162.5,497.0 L161.5,497.1 L160.5,497.2 L159.4,497.3 L158.4,497.4 L157.4,497.5 L156.3,497.6 L155.3,497.7 L154.3,497.9 L153.3,498.0 L152.4,498.2 L151.4,498.4 L150.5,498.6 L149.6,498.8 L148.7,499.1 L147.9,499.4 L147.0,499.7 L146.2,500.0 L145.5,500.4 L144.8,500.8 L144.1,501.3 L143.4,501.8 L142.8,502.3 L142.2,502.9 L141.7,503.5 L141.2,504.1 L140.7,504.8 L140.3,505.5 L139.9,506.2 L139.6,507.0 L139.2,507.8 L138.9,508.6 L138.7,509.5 L138.4,510.4 L138.2,511.3 L138.0,512.3 L137.8,513.3 L137.7,514.2 L137.5,515.2 L137.4,516.2 L137.3,517.3 L137.2,518.3 L137.1,519.3 L137.0,520.4 L136.9,521.4 L136.7,522.4 L136.6,523.4 L136.5,524.4 L136.3,525.4 L136.2,526.4 L136.0,527.4 L135.8,528.3 L135.6,529.2 L135.3,530.1 L135.0,530.9 L134.7,531.8 L134.4,532.6 L134.0,533.3 L133.6,534.1 L133.1,534.8 L132.7,535.4 L132.1,536.0 L131.6,536.6 L131.0,537.2 L130.4,537.7 L129.7,538.1 L129.0,538.6 L128.3,539.0 L127.5,539.3 L126.7,539.7 L125.9,540.0 L125.0,540.3 L124.1,540.5 L123.2,540.7 L122.2,540.9 L121.3,541.1 L120.3,541.2 L119.3,541.4 L118.3,541.5 L117.3,541.6 L116.3,541.7 L115.2,541.8 L114.2,541.9 L113.2,542.1 L112.1,542.2 L111.1,542.3 L110.1,542.4 L109.1,542.5 L108.1,542.7 L107.2,542.9 L106.2,543.1 L105.3,543.3 L104.4,543.5 L103.5,543.8 L102.7,544.1 L101.9,544.4 L101.1,544.8 L100.4,545.2 L99.7,545.6 L99.0,546.1 L98.4,546.6 L97.8,547.1 L97.2,547.7 L96.7,548.3 L96.2,549.0 L95.8,549.7 L95.4,550.4 L95.0,551.2 L94.6,552.0 L94.3,552.8 L94.0,553.6 L93.8,554.5 L93.5,555.4 L93.3,556.4 L93.2,557.3 L93.0,558.3 L92.8,559.3 L92.7,560.3 L92.6,561.3 L92.5,562.3 L92.4,563.4 L92.3,564.4 L92.1,565.4 L92.0,566.5 L91.9,567.5 L91.8,568.5 L91.7,569.5 L91.5,570.5 L91.3,571.4 L91.1,572.4 L90.9,573.3 L90.7,574.2 L90.4,575.1 L90.1,575.9 L89.8,576.7 L89.4,577.5 L89.0,578.3 L88.6,579.0 L88.2,579.7 L87.7,580.3 L87.1,580.9 L86.5,581.5 L85.9,582.0 L85.3,582.5 L84.6,582.9 L83.9,583.4 L83.1,583.7 L82.4,584.1 L81.5,584.4 L80.7,584.7 L79.8,585.0 L78.9,585.2 L78.0,585.4 L77.0,585.6 L76.1,585.8 L75.1,585.9 L74.1,586.0 L73.1,586.2 L72.0,586.3 L71.0,586.4 L70.0,586.5 L68.9,586.6 L67.9,586.7 L66.9,586.8 L65.9,586.9 L64.9,587.1 L63.9,587.2 L62.9,587.4 L62.0,587.6 L61.0,587.8 L60.1,588.0 L59.2,588.2 L58.4,588.5 L57.6,588.8 L56.8,589.2 L56.0,589.6 L55.3,590.0 L54.6,590.4 L53.9,590.9 L53.3,591.4 L52.8,592.0 L52.2,592.6 L51.7,593.2 L51.2,593.9 L50.8,594.6 L50.4,595.3 L50.0,596.1 L49.7,596.9 L49.4,597.8 L49.1,598.6 L48.9,599.5 L48.7,600.4 L48.5,601.4 L48.3,602.4 L48.1,603.3 L48.0,604.3 L47.9,605.3 L47.8,606.4 L47.6,607.4 L47.5,608.4 L47.4,609.5 L47.3,610.5 L47.2,611.5 L47.1,612.5 L47.0,613.5 L46.8,614.5 L46.6,615.5 L46.5,616.5 L46.3,617.4 L46.0,618.3 L45.8,619.2 L45.5,620.1 L45.2,620.9 L44.9,621.7 L44.5,622.5 L44.1,623.2 L43.6,623.9 L43.2,624.5 L42.6,625.2 L42.1,625.8" fill="none" stroke="#D5176F" stroke-width="4.30" stroke-linecap="round" stroke-linejoin="round" />
<path d="M302.4,362.3 L301.5,362.5 L300.6,362.7 L299.6,362.8 L298.7,363.0 L297.7,363.1 L296.7,363.2 L295.7,363.3 L294.8,363.4 L293.8,363.5 L292.8,363.6 L291.8,363.7 L290.8,363.8 L289.8,363.9 L288.9,364.0 L287.9,364.2 L287.0,364.3 L286.0,364.5 L285.1,364.7" fill="none" stroke="#ffffff" stroke-width="6.00" stroke-linecap="butt" stroke-linejoin="round" />
<path d="M305.2,361.5 L304.3,361.8 L303.5,362.0 L302.6,362.3 L301.6,362.5 L300.7,362.6 L299.7,362.8 L298.8,362.9 L297.8,363.1 L296.8,363.2 L295.8,363.3 L294.8,363.4 L293.8,363.5 L292.7,363.6 L291.7,363.7 L290.7,363.8 L289.7,363.9 L288.7,364.1 L287.8,364.2 L286.8,364.4 L285.9,364.5 L285.0,364.7 L284.1,365.0 L283.2,365.2 L282.4,365.5" fill="none" stroke="#D5176F" stroke-width="4.30" stroke-linecap="round" stroke-linejoin="round" />
<path d="M280.0,384.6 L279.1,384.8 L278.2,385.0 L277.2,385.1 L276.3,385.3 L275.3,385.4 L274.3,385.5 L273.4,385.6 L272.4,385.7 L271.4,385.8 L270.4,385.9 L269.4,386.0 L268.4,386.1 L267.4,386.2 L266.5,386.3 L265.5,386.5 L264.6,386.6 L263.7,386.8 L262.8,387.0" fill="none" stroke="#ffffff" stroke-width="6.00" stroke-linecap="butt" stroke-linejoin="round" />
<path d="M282.8,383.8 L281.9,384.1 L281.1,384.3 L280.2,384.6 L279.3,384.8 L278.3,384.9 L277.4,385.1 L276.4,385.2 L275.4,385.4 L274.4,385.5 L273.4,385.6 L272.4,385.7 L271.4,385.8 L270.4,385.9 L269.4,386.0 L268.3,386.1 L267.3,386.2 L266.4,386.4 L265.4,386.5 L264.4,386.7 L263.5,386.8 L262.6,387.0 L261.7,387.3 L260.8,387.5 L260.0,387.8" fill="none" stroke="#1A6FAE" stroke-width="4.30" stroke-linecap="round" stroke-linejoin="round" />
<path d="M257.6,406.9 L256.7,407.1 L255.8,407.3 L254.8,407.4 L253.9,407.6 L252.9,407.7 L252.0,407.8 L251.0,407.9 L250.0,408.0 L249.0,408.1 L248.0,408.2 L247.0,408.3 L246.0,408.4 L245.0,408.5 L244.1,408.6 L243.1,408.8 L242.2,408.9 L241.3,409.1 L240.4,409.3" fill="none" stroke="#ffffff" stroke-width="6.00" stroke-linecap="butt" stroke-linejoin="round" />
<path d="M260.4,406.1 L259.5,406.4 L258.7,406.6 L257.8,406.9 L256.9,407.1 L255.9,407.2 L255.0,407.4 L254.0,407.5 L253.0,407.7 L252.0,407.8 L251.0,407.9 L250.0,408.0 L249.0,408.1 L248.0,408.2 L247.0,408.3 L246.0,408.4 L245.0,408.5 L244.0,408.7 L243.0,408.8 L242.0,409.0 L241.1,409.1 L240.2,409.3 L239.3,409.6 L238.4,409.8 L237.6,410.1" fill="none" stroke="#D5176F" stroke-width="4.30" stroke-linecap="round" stroke-linejoin="round" />
<path d="M235.2,429.2 L234.3,429.4 L233.4,429.6 L232.5,429.7 L231.5,429.9 L230.5,430.0 L229.6,430.1 L228.6,430.2 L227.6,430.3 L226.6,430.4 L225.6,430.5 L224.6,430.6 L223.6,430.7 L222.7,430.8 L221.7,430.9 L220.7,431.1 L219.8,431.2 L218.9,431.4 L218.0,431.6" fill="none" stroke="#ffffff" stroke-width="6.00" stroke-linecap="butt" stroke-linejoin="round" />
<path d="M238.0,428.4 L237.2,428.7 L236.3,428.9 L235.4,429.2 L234.5,429.4 L233.5,429.5 L232.6,429.7 L231.6,429.8 L230.6,430.0 L229.6,430.1 L228.6,430.2 L227.6,430.3 L226.6,430.4 L225.6,430.5 L224.6,430.6 L223.6,430.7 L222.6,430.8 L221.6,431.0 L220.6,431.1 L219.7,431.3 L218.7,431.4 L217.8,431.6 L216.9,431.9 L216.0,432.1 L215.2,432.4" fill="none" stroke="#1A6FAE" stroke-width="4.30" stroke-linecap="round" stroke-linejoin="round" />
<path d="M212.8,451.5 L211.9,451.7 L211.0,451.9 L210.1,452.0 L209.1,452.2 L208.2,452.3 L207.2,452.4 L206.2,452.5 L205.2,452.6 L204.2,452.7 L203.2,452.8 L202.2,452.9 L201.2,453.0 L200.3,453.1 L199.3,453.2 L198.4,453.4 L197.4,453.5 L196.5,453.7 L195.6,453.9" fill="none" stroke="#ffffff" stroke-width="6.00" stroke-linecap="butt" stroke-linejoin="round" />
<path d="M215.6,450.7 L214.8,451.0 L213.9,451.2 L213.0,451.5 L212.1,451.7 L211.2,451.8 L210.2,452.0 L209.2,452.1 L208.2,452.3 L207.2,452.4 L206.2,452.5 L205.2,452.6 L204.2,452.7 L203.2,452.8 L202.2,452.9 L201.2,453.0 L200.2,453.1 L199.2,453.3 L198.2,453.4 L197.3,453.6 L196.3,453.7 L195.4,453.9 L194.5,454.2 L193.7,454.4 L192.8,454.7" fill="none" stroke="#D5176F" stroke-width="4.30" stroke-linecap="round" stroke-linejoin="round" />
<path d="M190.4,473.8 L189.5,474.0 L188.6,474.2 L187.7,474.3 L186.7,474.5 L185.8,474.6 L184.8,474.7 L183.8,474.8 L182.8,474.9 L181.8,475.0 L180.8,475.1 L179.8,475.2 L178.9,475.3 L177.9,475.4 L176.9,475.5 L176.0,475.7 L175.0,475.8 L174.1,476.0 L173.2,476.2" fill="none" stroke="#ffffff" stroke-width="6.00" stroke-linecap="butt" stroke-linejoin="round" />
<path d="M193.2,473.0 L192.4,473.3 L191.5,473.5 L190.6,473.8 L189.7,474.0 L188.8,474.1 L187.8,474.3 L186.8,474.4 L185.9,474.6 L184.9,474.7 L183.8,474.8 L182.8,474.9 L181.8,475.0 L180.8,475.1 L179.8,475.2 L178.8,475.3 L177.8,475.4 L176.8,475.6 L175.8,475.7 L174.9,475.9 L173.9,476.0 L173.0,476.2 L172.1,476.5 L171.3,476.7 L170.4,477.0" fill="none" stroke="#1A6FAE" stroke-width="4.30" stroke-linecap="round" stroke-linejoin="round" />
<path d="M168.1,496.1 L167.2,496.3 L166.2,496.5 L165.3,496.6 L164.3,496.8 L163.4,496.9 L162.4,497.0 L161.4,497.1 L160.4,497.2 L159.4,497.3 L158.4,497.4 L157.5,497.5 L156.5,497.6 L155.5,497.7 L154.5,497.8 L153.6,498.0 L152.6,498.1 L151.7,498.3 L150.8,498.5" fill="none" stroke="#ffffff" stroke-width="6.00" stroke-linecap="butt" stroke-linejoin="round" />
<path d="M170.8,495.3 L170.0,495.6 L169.1,495.8 L168.2,496.1 L167.3,496.3 L166.4,496.4 L165.4,496.6 L164.5,496.7 L163.5,496.9 L162.5,497.0 L161.5,497.1 L160.5,497.2 L159.4,497.3 L158.4,497.4 L157.4,497.5 L156.4,497.6 L155.4,497.7 L154.4,497.9 L153.5,498.0 L152.5,498.2 L151.6,498.3 L150.6,498.5 L149.7,498.8 L148.9,499.0 L148.0,499.3" fill="none" stroke="#D5176F" stroke-width="4.30" stroke-linecap="round" stroke-linejoin="round" />
<path d="M145.7,518.4 L144.8,518.6 L143.8,518.8 L142.9,518.9 L142.0,519.1 L141.0,519.2 L140.0,519.3 L139.0,519.4 L138.0,519.5 L137.0,519.6 L136.1,519.7 L135.1,519.8 L134.1,519.9 L133.1,520.0 L132.1,520.1 L131.2,520.3 L130.3,520.4 L129.3,520.6 L128.4,520.8" fill="none" stroke="#ffffff" stroke-width="6.00" stroke-linecap="butt" stroke-linejoin="round" />
<path d="M148.4,517.6 L147.6,517.9 L146.7,518.1 L145.8,518.4 L144.9,518.6 L144.0,518.7 L143.0,518.9 L142.1,519.0 L141.1,519.2 L140.1,519.3 L139.1,519.4 L138.1,519.5 L137.0,519.6 L136.0,519.7 L135.0,519.8 L134.0,519.9 L133.0,520.0 L132.0,520.2 L131.1,520.3 L130.1,520.5 L129.2,520.6 L128.3,520.8 L127.4,521.1 L126.5,521.3 L125.7,521.6" fill="none" stroke="#1A6FAE" stroke-width="4.30" stroke-linecap="round" stroke-linejoin="round" />
<path d="M123.3,540.7 L122.4,540.9 L121.5,541.1 L120.5,541.2 L119.6,541.4 L118.6,541.5 L117.6,541.6 L116.6,541.7 L115.7,541.8 L114.7,541.9 L113.7,542.0 L112.7,542.1 L111.7,542.2 L110.7,542.3 L109.8,542.4 L108.8,542.6 L107.9,542.7 L106.9,542.9 L106.0,543.1" fill="none" stroke="#ffffff" stroke-width="6.00" stroke-linecap="butt" stroke-linejoin="round" />
<path d="M126.1,539.9 L125.2,540.2 L124.4,540.4 L123.5,540.7 L122.5,540.9 L121.6,541.0 L120.6,541.2 L119.7,541.3 L118.7,541.5 L117.7,541.6 L116.7,541.7 L115.7,541.8 L114.7,541.9 L113.6,542.0 L112.6,542.1 L111.6,542.2 L110.6,542.3 L109.6,542.5 L108.7,542.6 L107.7,542.8 L106.8,542.9 L105.9,543.1 L105.0,543.4 L104.1,543.6 L103.3,543.9" fill="none" stroke="#D5176F" stroke-width="4.30" stroke-linecap="round" stroke-linejoin="round" />
<path d="M100.9,563.0 L100.0,563.2 L99.1,563.4 L98.1,563.5 L97.2,563.7 L96.2,563.8 L95.2,563.9 L94.3,564.0 L93.3,564.1 L92.3,564.2 L91.3,564.3 L90.3,564.4 L89.3,564.5 L88.3,564.6 L87.4,564.7 L86.4,564.9 L85.5,565.0 L84.6,565.2 L83.7,565.4" fill="none" stroke="#ffffff" stroke-width="6.00" stroke-linecap="butt" stroke-linejoin="round" />
<path d="M103.7,562.2 L102.8,562.5 L102.0,562.7 L101.1,563.0 L100.2,563.2 L99.2,563.3 L98.3,563.5 L97.3,563.6 L96.3,563.8 L95.3,563.9 L94.3,564.0 L93.3,564.1 L92.3,564.2 L91.3,564.3 L90.3,564.4 L89.2,564.5 L88.2,564.6 L87.3,564.8 L86.3,564.9 L85.3,565.1 L84.4,565.2 L83.5,565.4 L82.6,565.7 L81.7,565.9 L80.9,566.2" fill="none" stroke="#1A6FAE" stroke-width="4.30" stroke-linecap="round" stroke-linejoin="round" />
<path d="M78.5,585.3 L77.6,585.5 L76.7,585.7 L75.7,585.8 L74.8,586.0 L73.8,586.1 L72.9,586.2 L71.9,586.3 L70.9,586.4 L69.9,586.5 L68.9,586.6 L67.9,586.7 L66.9,586.8 L65.9,586.9 L65.0,587.0 L64.0,587.2 L63.1,587.3 L62.2,587.5 L61.3,587.7" fill="none" stroke="#ffffff" stroke-width="6.00" stroke-linecap="butt" stroke-linejoin="round" />
<path d="M81.3,584.5 L80.4,584.8 L79.6,585.0 L78.7,585.3 L77.8,585.5 L76.8,585.6 L75.9,585.8 L74.9,585.9 L73.9,586.1 L72.9,586.2 L71.9,586.3 L70.9,586.4 L69.9,586.5 L68.9,586.6 L67.9,586.7 L66.9,586.8 L65.9,586.9 L64.9,587.1 L63.9,587.2 L62.9,587.4 L62.0,587.5 L61.1,587.7 L60.2,588.0 L59.3,588.2 L58.5,588.5" fill="none" stroke="#D5176F" stroke-width="4.30" stroke-linecap="round" stroke-linejoin="round" />
<path d="M56.1,607.6 L55.2,607.8 L54.3,608.0 L53.4,608.1 L52.4,608.3 L51.4,608.4 L50.5,608.5 L49.5,608.6 L48.5,608.7 L47.5,608.8 L46.5,608.9 L45.5,609.0 L44.5,609.1 L43.6,609.2 L42.6,609.3 L41.6,609.5 L40.7,609.6 L39.8,609.8 L38.9,610.0" fill="none" stroke="#ffffff" stroke-width="6.00" stroke-linecap="butt" stroke-linejoin="round" />
<path d="M58.9,606.8 L58.1,607.1 L57.2,607.3 L56.3,607.6 L55.4,607.8 L54.4,607.9 L53.5,608.1 L52.5,608.2 L51.5,608.4 L50.5,608.5 L49.5,608.6 L48.5,608.7 L47.5,608.8 L46.5,608.9 L45.5,609.0 L44.5,609.1 L43.5,609.2 L42.5,609.4 L41.5,609.5 L40.6,609.7 L39.6,609.8 L38.7,610.0 L37.8,610.3 L36.9,610.5 L36.1,610.8" fill="none" stroke="#1A6FAE" stroke-width="4.30" stroke-linecap="round" stroke-linejoin="round" /></g>
<g id="ringL"><g><path d="M347.5,349.2 L346.1,350.5 L344.6,351.6 L342.9,352.5 L341.2,353.3 L339.3,353.9 L337.4,354.3 L335.3,354.6 L333.3,354.6 L331.2,354.5 L329.1,354.2 L327.0,353.7 L324.9,353.0 L322.8,352.2 L320.8,351.2 L318.8,350.0 L316.9,348.7 L315.1,347.3 L313.4,345.7 L311.8,344.0 L310.4,342.2 L309.1,340.3 L307.9,338.3 L306.9,336.3 L306.1,334.2 L305.4,332.1 L304.9,330.0 L304.6,327.9 L304.5,325.8 L304.5,323.8 L304.8,321.7 L305.2,319.8 L305.8,317.9 L306.6,316.2 L307.5,314.5 L308.6,313.0 L309.9,311.6 L311.3,310.3 L312.8,309.2 L314.5,308.3 L316.2,307.5 L318.1,306.9 L320.0,306.5 L322.1,306.2 L324.1,306.2 L326.2,306.3 L328.3,306.6 L330.4,307.1 L332.5,307.8 L334.6,308.6 L336.6,309.6 L338.6,310.8 L340.5,312.1 L342.3,313.5 L344.0,315.1 L345.6,316.8 L347.0,318.6 L348.3,320.5 L349.5,322.5 L350.5,324.5 L351.3,326.6 L352.0,328.7 L352.5,330.8 L352.8,332.9 L352.9,335.0 L352.9,337.0 L352.6,339.1 L352.2,341.0 L351.6,342.9 L350.8,344.6 L349.9,346.3 L348.8,347.8Z" fill="#FFF04E"/><g clip-path="url(#holeLo)"><path d="M312.4,318.3 L312.7,317.8 L313.1,317.3 L313.4,316.8 L313.8,316.4 L314.1,316.0 L314.5,315.5 L315.0,315.1 L315.4,314.8 L315.8,314.4 L316.3,314.1 L316.8,313.7 L317.3,313.4 L317.8,313.2 L318.3,312.9 L318.8,312.7 L319.4,312.4 L319.9,312.2 L320.5,312.1 L321.1,311.9 L321.7,311.8 L322.3,311.7 L322.9,311.6 L323.5,311.5 L324.1,311.5 L324.7,311.5 L325.4,311.5 L326.0,311.5 L326.7,311.5 L327.3,311.6 L327.9,311.7 L328.6,311.8 L329.2,312.0 L329.9,312.1 L330.5,312.3 L331.2,312.5 L331.8,312.7 L332.5,313.0 L333.1,313.2 L333.7,313.5 L334.3,313.8 L335.0,314.2 L335.6,314.5 L336.2,314.9 L336.8,315.2 L337.3,315.7 L337.9,316.1 L338.5,316.5 L339.0,317.0 L339.6,317.4 L340.1,317.9 L340.6,318.4 L341.1,318.9 L341.6,319.4 L342.0,320.0 L342.5,320.5 L342.9,321.1 L343.3,321.7 L343.8,322.2 L344.1,322.8 L344.5,323.4 L344.8,324.0 L345.2,324.7 L345.5,325.3 L345.8,325.9 L346.0,326.5 L346.3,327.2 L346.5,327.8 L346.7,328.5 L346.9,329.1 L347.0,329.8 L347.2,330.4 L347.3,331.1 L347.4,331.7 L347.5,332.3 L347.5,333.0 L347.5,333.6 L347.5,334.3 L347.5,334.9 L347.5,335.5 L347.4,336.1 L347.3,336.7 L347.2,337.3 L347.1,337.9 L346.9,338.5 L346.8,339.1 L346.6,339.6 L346.3,340.2 L346.1,340.7 L345.8,341.2 L345.6,341.7 L345.3,342.2 L344.9,342.7 L344.6,343.2 L344.2,343.6 L343.9,344.0 L343.5,344.5 L343.0,344.9 L342.6,345.2 L342.2,345.6 L341.7,345.9" fill="none" stroke="#FFFAB0" stroke-width="4.18" stroke-linecap="butt" stroke-linejoin="round" filter="url(#blur)"/><path d="M341.2,346.3 L340.7,346.6 L340.2,346.8 L339.7,347.1 L339.2,347.3 L338.6,347.6 L338.1,347.8 L337.5,347.9 L336.9,348.1 L336.3,348.2 L335.7,348.3 L335.1,348.4 L334.5,348.5 L333.9,348.5 L333.3,348.5 L332.6,348.5 L332.0,348.5 L331.3,348.5 L330.7,348.4 L330.1,348.3 L329.4,348.2 L328.8,348.0 L328.1,347.9 L327.5,347.7 L326.8,347.5 L326.2,347.3 L325.5,347.0 L324.9,346.8 L324.3,346.5 L323.7,346.2 L323.0,345.8 L322.4,345.5 L321.8,345.1 L321.2,344.8 L320.7,344.3 L320.1,343.9 L319.5,343.5 L319.0,343.0 L318.4,342.6 L317.9,342.1 L317.4,341.6 L316.9,341.1 L316.4,340.6 L316.0,340.0 L315.5,339.5 L315.1,338.9 L314.7,338.3 L314.2,337.8 L313.9,337.2 L313.5,336.6 L313.2,336.0 L312.8,335.3 L312.5,334.7 L312.2,334.1 L312.0,333.5 L311.7,332.8 L311.5,332.2 L311.3,331.5 L311.1,330.9 L311.0,330.2 L310.8,329.6 L310.7,328.9 L310.6,328.3 L310.5,327.7 L310.5,327.0 L310.5,326.4 L310.5,325.7 L310.5,325.1 L310.5,324.5 L310.6,323.9 L310.7,323.3 L310.8,322.7 L310.9,322.1 L311.1,321.5 L311.2,320.9 L311.4,320.4 L311.7,319.8 L311.9,319.3 L312.2,318.8" fill="none" stroke="#F29F87" stroke-width="14.80" stroke-linecap="round" stroke-linejoin="round" /><path d="M341.2,346.3 L340.7,346.6 L340.2,346.8 L339.7,347.1 L339.2,347.3 L338.6,347.6 L338.1,347.8 L337.5,347.9 L336.9,348.1 L336.3,348.2 L335.7,348.3 L335.1,348.4 L334.5,348.5 L333.9,348.5 L333.3,348.5 L332.6,348.5 L332.0,348.5 L331.3,348.5 L330.7,348.4 L330.1,348.3 L329.4,348.2 L328.8,348.0 L328.1,347.9 L327.5,347.7 L326.8,347.5 L326.2,347.3 L325.5,347.0 L324.9,346.8 L324.3,346.5 L323.7,346.2 L323.0,345.8 L322.4,345.5 L321.8,345.1 L321.2,344.8 L320.7,344.3 L320.1,343.9 L319.5,343.5 L319.0,343.0 L318.4,342.6 L317.9,342.1 L317.4,341.6 L316.9,341.1 L316.4,340.6 L316.0,340.0 L315.5,339.5 L315.1,338.9 L314.7,338.3 L314.2,337.8 L313.9,337.2 L313.5,336.6 L313.2,336.0 L312.8,335.3 L312.5,334.7 L312.2,334.1 L312.0,333.5 L311.7,332.8 L311.5,332.2 L311.3,331.5 L311.1,330.9 L311.0,330.2 L310.8,329.6 L310.7,328.9 L310.6,328.3 L310.5,327.7 L310.5,327.0 L310.5,326.4 L310.5,325.7 L310.5,325.1 L310.5,324.5 L310.6,323.9 L310.7,323.3 L310.8,322.7 L310.9,322.1 L311.1,321.5 L311.2,320.9 L311.4,320.4 L311.7,319.8 L311.9,319.3 L312.2,318.8" fill="none" stroke="#FBCDBD" stroke-width="3.94" stroke-linecap="round" stroke-linejoin="round" filter="url(#blur)"/></g><path d="M347.5,349.2 L346.1,350.5 L344.6,351.6 L342.9,352.5 L341.2,353.3 L339.3,353.9 L337.4,354.3 L335.3,354.6 L333.3,354.6 L331.2,354.5 L329.1,354.2 L327.0,353.7 L324.9,353.0 L322.8,352.2 L320.8,351.2 L318.8,350.0 L316.9,348.7 L315.1,347.3 L313.4,345.7 L311.8,344.0 L310.4,342.2 L309.1,340.3 L307.9,338.3 L306.9,336.3 L306.1,334.2 L305.4,332.1 L304.9,330.0 L304.6,327.9 L304.5,325.8 L304.5,323.8 L304.8,321.7 L305.2,319.8 L305.8,317.9 L306.6,316.2 L307.5,314.5 L308.6,313.0 L309.9,311.6 L311.3,310.3 L312.8,309.2 L314.5,308.3 L316.2,307.5 L318.1,306.9 L320.0,306.5 L322.1,306.2 L324.1,306.2 L326.2,306.3 L328.3,306.6 L330.4,307.1 L332.5,307.8 L334.6,308.6 L336.6,309.6 L338.6,310.8 L340.5,312.1 L342.3,313.5 L344.0,315.1 L345.6,316.8 L347.0,318.6 L348.3,320.5 L349.5,322.5 L350.5,324.5 L351.3,326.6 L352.0,328.7 L352.5,330.8 L352.8,332.9 L352.9,335.0 L352.9,337.0 L352.6,339.1 L352.2,341.0 L351.6,342.9 L350.8,344.6 L349.9,346.3 L348.8,347.8Z" fill="none" stroke="#1c130f" stroke-width="1.9"/><path d="M338.5,340.6 L337.7,341.1 L336.9,341.6 L336.0,342.0 L335.0,342.4 L334.0,342.6 L333.0,342.7 L331.9,342.7 L330.8,342.6 L329.7,342.4 L328.6,342.2 L327.5,341.8 L326.5,341.3 L325.4,340.8 L324.4,340.1 L323.4,339.4 L322.4,338.6 L321.6,337.7 L320.7,336.8 L320.0,335.8 L319.3,334.8 L318.6,333.7 L318.1,332.6 L317.6,331.5 L317.3,330.4 L317.0,329.2 L316.8,328.1 L316.7,326.9 L316.7,325.8 L316.8,324.8 L317.0,323.7 L317.3,322.7 L317.7,321.8 L318.2,320.9 L318.8,320.1 L319.4,319.3 L320.1,318.6 L320.9,318.1 L321.7,317.6 L322.6,317.2 L323.6,316.8 L324.6,316.6 L325.6,316.5 L326.7,316.5 L327.8,316.6 L328.9,316.8 L330.0,317.0 L331.1,317.4 L332.1,317.9 L333.2,318.4 L334.2,319.1 L335.2,319.8 L336.2,320.6 L337.0,321.5 L337.9,322.4 L338.6,323.4 L339.3,324.4 L340.0,325.5 L340.5,326.6 L341.0,327.7 L341.3,328.8 L341.6,330.0 L341.8,331.1 L341.9,332.3 L341.9,333.4 L341.8,334.4 L341.6,335.5 L341.3,336.5 L340.9,337.4 L340.4,338.3 L339.8,339.1 L339.2,339.9Z" fill="#ffffff" stroke="#1c130f" stroke-width="1.9"/></g></g>
<g clip-path="url(#holeL)">
<path d="M341.0,320.2 C340.3,320.0 338.6,319.5 336.7,319.2 C334.8,318.9 331.7,318.1 329.5,318.4 C327.3,318.7 325.0,319.8 323.3,321.0 C321.6,322.2 320.2,324.1 319.2,325.5 C318.1,326.9 317.6,328.2 317.0,329.6 C316.4,331.0 315.8,333.3 315.5,334.0" fill="none" stroke="#D5176F" stroke-width="4.30" stroke-linecap="round" stroke-linejoin="round" />
<path d="M340.5,319.0 C340.3,319.8 339.9,321.8 339.4,323.7 C338.9,325.6 338.5,328.4 337.6,330.4 C336.7,332.4 335.5,334.4 334.0,335.8 C332.5,337.2 330.4,338.2 328.6,338.9 C326.9,339.6 324.4,339.8 323.5,340.0" fill="none" stroke="#1A6FAE" stroke-width="4.30" stroke-linecap="round" stroke-linejoin="round" />
</g>
<path d="M334.9,309.0 C335.4,306.6 337.4,303.3 339.1,301.6 C340.9,299.9 343.1,299.0 345.4,299.0 C347.7,299.0 350.3,300.1 352.7,301.4 C355.1,302.7 357.7,305.1 360.0,306.9 C362.3,308.7 364.2,310.2 366.3,312.1 C368.4,314.1 371.1,316.4 372.5,318.6 C373.9,320.8 375.1,323.2 374.8,325.2 C374.5,327.2 372.6,329.9 370.6,330.5 C368.7,331.1 365.4,330.0 363.1,329.0 C360.8,328.0 359.3,325.1 356.9,324.4 C354.5,323.7 351.1,325.2 348.5,324.9 C345.9,324.6 343.3,323.9 341.2,322.5 C339.1,321.1 337.1,318.6 336.0,316.3 C334.9,314.1 334.4,311.4 334.9,309.0Z" fill="url(#gBlu)" stroke="#1c130f" stroke-width="1.8"/>
<path d="M611.5,377.5 C600,371 578,380 566,396 C560,406 566,416 576,412 C592,408 608,396 611.5,377.5 Z" fill="url(#gLeaf)" stroke="#1c130f" stroke-width="1.8" stroke-linejoin="round"/>
<path d="M536.5,384.5 C534.1,386.7 532.3,390.3 531.6,393.5 C530.9,396.7 531.4,400.6 532.4,403.5 C533.4,406.4 535.2,408.9 537.5,410.8 C539.8,412.7 543.2,414.3 546.3,414.9 C549.4,415.5 553.0,414.8 556.0,414.2 C559.0,413.6 562.0,412.5 564.5,411.0 C567.0,409.5 569.5,407.3 571.0,405.0 C572.5,402.7 573.3,399.6 573.3,397.0 C573.3,394.4 572.3,391.8 571.0,389.5 C569.7,387.2 567.8,384.7 565.5,383.0 C563.2,381.3 560.2,379.9 557.0,379.5 C553.8,379.1 549.4,379.5 546.0,380.3 C542.6,381.1 538.9,382.3 536.5,384.5Z" fill="url(#gYel)"/>
<path d="M536.5,384.5 C534.1,386.7 532.3,390.3 531.6,393.5 C530.9,396.7 531.4,400.6 532.4,403.5 C533.4,406.4 535.2,408.9 537.5,410.8 C539.8,412.7 543.2,414.3 546.3,414.9 C549.4,415.5 553.0,414.8 556.0,414.2 C559.0,413.6 562.0,412.5 564.5,411.0 C567.0,409.5 569.5,407.3 571.0,405.0 C572.5,402.7 573.3,399.6 573.3,397.0 C573.3,394.4 572.3,391.8 571.0,389.5 C569.7,387.2 567.8,384.7 565.5,383.0 C563.2,381.3 560.2,379.9 557.0,379.5 C553.8,379.1 549.4,379.5 546.0,380.3 C542.6,381.1 538.9,382.3 536.5,384.5Z" fill="none" stroke="#1c130f" stroke-width="1.9" clip-path="url(#noLeafR)"/>
<path d="M563.0,370.0 C563.5,370.6 564.9,372.1 566.3,373.6 C567.7,375.1 569.2,377.4 571.5,378.8 C573.8,380.2 576.7,381.5 579.8,381.9 C582.9,382.2 587.2,380.5 590.3,380.9 C593.4,381.2 595.8,382.1 598.6,384.0 C601.4,385.9 604.5,389.8 607.0,392.4 C609.5,395.0 611.5,397.7 613.3,399.7 C615.1,401.7 617.0,403.7 617.8,404.5" fill="none" stroke="#ffffff" stroke-width="7.20" stroke-linecap="butt" stroke-linejoin="round" /><path d="M563.0,370.0 C563.5,370.6 564.9,372.1 566.3,373.6 C567.7,375.1 569.2,377.4 571.5,378.8 C573.8,380.2 576.7,381.5 579.8,381.9 C582.9,382.2 587.2,380.5 590.3,380.9 C593.4,381.2 595.8,382.1 598.6,384.0 C601.4,385.9 604.5,389.8 607.0,392.4 C609.5,395.0 611.5,397.7 613.3,399.7 C615.1,401.7 617.0,403.7 617.8,404.5" fill="none" stroke="#1A6FAE" stroke-width="4.80" stroke-linecap="round" stroke-linejoin="round" />
<path d="M570.0,358.5 C570.7,359.0 572.3,359.8 574.2,361.3 C576.1,362.8 579.7,364.8 581.6,367.5 C583.5,370.2 584.6,374.1 585.7,377.8 C586.8,381.6 587.5,386.1 588.4,390.0 C589.3,393.9 590.0,397.6 591.0,401.2 C592.0,404.8 593.0,408.4 594.4,411.6 C595.8,414.8 597.9,418.5 599.2,420.6 C600.5,422.7 601.7,423.8 602.2,424.4" fill="none" stroke="#ffffff" stroke-width="7.00" stroke-linecap="butt" stroke-linejoin="round" /><path d="M570.0,358.5 C570.7,359.0 572.3,359.8 574.2,361.3 C576.1,362.8 579.7,364.8 581.6,367.5 C583.5,370.2 584.6,374.1 585.7,377.8 C586.8,381.6 587.5,386.1 588.4,390.0 C589.3,393.9 590.0,397.6 591.0,401.2 C592.0,404.8 593.0,408.4 594.4,411.6 C595.8,414.8 597.9,418.5 599.2,420.6 C600.5,422.7 601.7,423.8 602.2,424.4" fill="none" stroke="#D5176F" stroke-width="4.60" stroke-linecap="round" stroke-linejoin="round" />
<path d="M587.3,419.3 L604.0,426.3 L601.5,408.8" fill="none" stroke="#D5176F" stroke-width="3.3" stroke-linejoin="miter" stroke-miterlimit="10" stroke-linecap="butt"/>
<g id="ringR"><g><path d="M562.1,324.5 L563.4,325.9 L564.5,327.4 L565.4,329.1 L566.2,330.8 L566.8,332.7 L567.2,334.6 L567.5,336.7 L567.5,338.7 L567.4,340.8 L567.1,342.9 L566.6,345.0 L565.9,347.1 L565.1,349.2 L564.1,351.2 L562.9,353.2 L561.6,355.1 L560.2,356.9 L558.6,358.6 L556.9,360.2 L555.1,361.6 L553.2,362.9 L551.2,364.1 L549.2,365.1 L547.1,365.9 L545.0,366.6 L542.9,367.1 L540.8,367.4 L538.7,367.5 L536.7,367.5 L534.6,367.2 L532.7,366.8 L530.8,366.2 L529.1,365.4 L527.4,364.5 L525.9,363.4 L524.5,362.1 L523.2,360.7 L522.1,359.2 L521.2,357.5 L520.4,355.8 L519.8,353.9 L519.4,352.0 L519.1,349.9 L519.1,347.9 L519.2,345.8 L519.5,343.7 L520.0,341.6 L520.7,339.5 L521.5,337.4 L522.5,335.4 L523.7,333.4 L525.0,331.5 L526.4,329.7 L528.0,328.0 L529.7,326.4 L531.5,325.0 L533.4,323.7 L535.4,322.5 L537.4,321.5 L539.5,320.7 L541.6,320.0 L543.7,319.5 L545.8,319.2 L547.9,319.1 L549.9,319.1 L552.0,319.4 L553.9,319.8 L555.8,320.4 L557.5,321.2 L559.2,322.1 L560.7,323.2Z" fill="#FFF04E"/><g clip-path="url(#holeRo)"><path d="M555.6,326.9 L556.1,327.2 L556.6,327.5 L557.1,327.9 L557.5,328.2 L557.9,328.6 L558.4,329.0 L558.8,329.4 L559.1,329.8 L559.5,330.3 L559.8,330.7 L560.1,331.2 L560.4,331.7 L560.7,332.2 L561.0,332.7 L561.2,333.3 L561.4,333.8 L561.6,334.4 L561.8,334.9 L561.9,335.5 L562.1,336.1 L562.2,336.7 L562.3,337.3 L562.3,337.9 L562.4,338.5 L562.4,339.2 L562.4,339.8 L562.4,340.4 L562.3,341.1 L562.2,341.7 L562.1,342.3 L562.0,343.0 L561.9,343.6 L561.7,344.3 L561.5,344.9 L561.3,345.6 L561.1,346.2 L560.9,346.8 L560.6,347.5 L560.3,348.1 L560.0,348.7 L559.7,349.3 L559.3,349.9 L559.0,350.5 L558.6,351.1 L558.2,351.7 L557.8,352.3 L557.3,352.9 L556.9,353.4 L556.4,353.9 L555.9,354.5 L555.4,355.0 L554.9,355.5 L554.4,356.0 L553.9,356.4 L553.3,356.9 L552.7,357.3 L552.2,357.7 L551.6,358.1 L551.0,358.5 L550.4,358.9 L549.8,359.2 L549.2,359.6 L548.5,359.9 L547.9,360.1 L547.3,360.4 L546.7,360.7 L546.0,360.9 L545.4,361.1 L544.7,361.3 L544.1,361.4 L543.4,361.6 L542.8,361.7 L542.1,361.8 L541.5,361.9 L540.9,361.9 L540.2,361.9 L539.6,361.9 L539.0,361.9 L538.4,361.9 L537.7,361.8 L537.1,361.7 L536.5,361.6 L536.0,361.5 L535.4,361.3 L534.8,361.2 L534.3,361.0 L533.7,360.8 L533.2,360.5 L532.7,360.3 L532.2,360.0 L531.7,359.7 L531.2,359.4 L530.7,359.0 L530.3,358.7 L529.9,358.3 L529.4,357.9 L529.0,357.5 L528.7,357.1 L528.3,356.6 L528.0,356.2 L527.7,355.7" fill="none" stroke="#FFFAB0" stroke-width="4.18" stroke-linecap="butt" stroke-linejoin="round" filter="url(#blur)"/><path d="M527.4,355.2 L527.1,354.7 L526.8,354.2 L526.6,353.6 L526.4,353.1 L526.2,352.5 L526.0,352.0 L525.9,351.4 L525.7,350.8 L525.6,350.2 L525.5,349.6 L525.5,349.0 L525.4,348.4 L525.4,347.7 L525.4,347.1 L525.4,346.5 L525.5,345.8 L525.6,345.2 L525.7,344.6 L525.8,343.9 L525.9,343.3 L526.1,342.6 L526.3,342.0 L526.5,341.3 L526.7,340.7 L526.9,340.1 L527.2,339.4 L527.5,338.8 L527.8,338.2 L528.1,337.6 L528.5,337.0 L528.8,336.4 L529.2,335.8 L529.6,335.2 L530.0,334.6 L530.5,334.0 L530.9,333.5 L531.4,333.0 L531.9,332.4 L532.4,331.9 L532.9,331.4 L533.4,330.9 L533.9,330.5 L534.5,330.0 L535.1,329.6 L535.6,329.2 L536.2,328.8 L536.8,328.4 L537.4,328.0 L538.0,327.7 L538.6,327.3 L539.3,327.0 L539.9,326.8 L540.5,326.5 L541.1,326.2 L541.8,326.0 L542.4,325.8 L543.1,325.6 L543.7,325.5 L544.4,325.3 L545.0,325.2 L545.7,325.1 L546.3,325.0 L546.9,325.0 L547.6,325.0 L548.2,325.0 L548.8,325.0 L549.4,325.0 L550.1,325.1 L550.7,325.2 L551.3,325.3 L551.8,325.4 L552.4,325.6 L553.0,325.7 L553.5,325.9 L554.1,326.1 L554.6,326.4 L555.1,326.6" fill="none" stroke="#F29F87" stroke-width="14.80" stroke-linecap="round" stroke-linejoin="round" /><path d="M527.4,355.2 L527.1,354.7 L526.8,354.2 L526.6,353.6 L526.4,353.1 L526.2,352.5 L526.0,352.0 L525.9,351.4 L525.7,350.8 L525.6,350.2 L525.5,349.6 L525.5,349.0 L525.4,348.4 L525.4,347.7 L525.4,347.1 L525.4,346.5 L525.5,345.8 L525.6,345.2 L525.7,344.6 L525.8,343.9 L525.9,343.3 L526.1,342.6 L526.3,342.0 L526.5,341.3 L526.7,340.7 L526.9,340.1 L527.2,339.4 L527.5,338.8 L527.8,338.2 L528.1,337.6 L528.5,337.0 L528.8,336.4 L529.2,335.8 L529.6,335.2 L530.0,334.6 L530.5,334.0 L530.9,333.5 L531.4,333.0 L531.9,332.4 L532.4,331.9 L532.9,331.4 L533.4,330.9 L533.9,330.5 L534.5,330.0 L535.1,329.6 L535.6,329.2 L536.2,328.8 L536.8,328.4 L537.4,328.0 L538.0,327.7 L538.6,327.3 L539.3,327.0 L539.9,326.8 L540.5,326.5 L541.1,326.2 L541.8,326.0 L542.4,325.8 L543.1,325.6 L543.7,325.5 L544.4,325.3 L545.0,325.2 L545.7,325.1 L546.3,325.0 L546.9,325.0 L547.6,325.0 L548.2,325.0 L548.8,325.0 L549.4,325.0 L550.1,325.1 L550.7,325.2 L551.3,325.3 L551.8,325.4 L552.4,325.6 L553.0,325.7 L553.5,325.9 L554.1,326.1 L554.6,326.4 L555.1,326.6" fill="none" stroke="#FBCDBD" stroke-width="3.94" stroke-linecap="round" stroke-linejoin="round" filter="url(#blur)"/></g><path d="M562.1,324.5 L563.4,325.9 L564.5,327.4 L565.4,329.1 L566.2,330.8 L566.8,332.7 L567.2,334.6 L567.5,336.7 L567.5,338.7 L567.4,340.8 L567.1,342.9 L566.6,345.0 L565.9,347.1 L565.1,349.2 L564.1,351.2 L562.9,353.2 L561.6,355.1 L560.2,356.9 L558.6,358.6 L556.9,360.2 L555.1,361.6 L553.2,362.9 L551.2,364.1 L549.2,365.1 L547.1,365.9 L545.0,366.6 L542.9,367.1 L540.8,367.4 L538.7,367.5 L536.7,367.5 L534.6,367.2 L532.7,366.8 L530.8,366.2 L529.1,365.4 L527.4,364.5 L525.9,363.4 L524.5,362.1 L523.2,360.7 L522.1,359.2 L521.2,357.5 L520.4,355.8 L519.8,353.9 L519.4,352.0 L519.1,349.9 L519.1,347.9 L519.2,345.8 L519.5,343.7 L520.0,341.6 L520.7,339.5 L521.5,337.4 L522.5,335.4 L523.7,333.4 L525.0,331.5 L526.4,329.7 L528.0,328.0 L529.7,326.4 L531.5,325.0 L533.4,323.7 L535.4,322.5 L537.4,321.5 L539.5,320.7 L541.6,320.0 L543.7,319.5 L545.8,319.2 L547.9,319.1 L549.9,319.1 L552.0,319.4 L553.9,319.8 L555.8,320.4 L557.5,321.2 L559.2,322.1 L560.7,323.2Z" fill="none" stroke="#1c130f" stroke-width="1.9"/><path d="M554.6,333.5 L555.3,334.2 L555.8,335.0 L556.3,335.8 L556.7,336.8 L557.0,337.7 L557.1,338.7 L557.2,339.8 L557.2,340.9 L557.1,342.0 L557.0,343.1 L556.7,344.2 L556.3,345.3 L555.8,346.4 L555.3,347.5 L554.6,348.5 L553.9,349.5 L553.1,350.5 L552.3,351.4 L551.4,352.2 L550.4,353.0 L549.4,353.7 L548.4,354.4 L547.3,354.9 L546.2,355.4 L545.1,355.8 L544.0,356.1 L542.9,356.2 L541.8,356.3 L540.7,356.3 L539.6,356.2 L538.6,356.1 L537.7,355.8 L536.7,355.4 L535.9,354.9 L535.1,354.4 L534.4,353.7 L533.7,353.0 L533.2,352.2 L532.7,351.4 L532.3,350.4 L532.0,349.5 L531.9,348.5 L531.8,347.4 L531.8,346.3 L531.9,345.2 L532.0,344.1 L532.3,343.0 L532.7,341.9 L533.2,340.8 L533.7,339.7 L534.4,338.7 L535.1,337.7 L535.9,336.7 L536.7,335.8 L537.6,335.0 L538.6,334.2 L539.6,333.5 L540.6,332.8 L541.7,332.3 L542.8,331.8 L543.9,331.4 L545.0,331.1 L546.1,331.0 L547.2,330.9 L548.3,330.9 L549.4,331.0 L550.4,331.1 L551.3,331.4 L552.3,331.8 L553.1,332.3 L553.9,332.8Z" fill="#ffffff" stroke="#1c130f" stroke-width="1.9"/></g></g>
<g clip-path="url(#holeR)">
<path d="M540.0,331.5 C540.1,332.2 540.6,334.1 540.6,336.0 C540.6,337.9 539.8,340.7 540.0,342.7 C540.2,344.7 541.1,346.6 542.0,348.2 C542.9,349.8 544.7,351.5 545.2,352.2" fill="none" stroke="#1a1a1a" stroke-width="4.30" stroke-linecap="round" stroke-linejoin="round" />
<path d="M545.2,352.2 C545.7,352.7 546.9,354.0 548.0,355.0 C549.1,356.0 551.3,357.5 552.0,358.0" fill="none" stroke="#D5176F" stroke-width="4.30" stroke-linecap="round" stroke-linejoin="round" />
<path d="M543.8,336.2 C544.3,336.3 545.9,336.4 547.0,336.6 C548.1,336.8 549.1,336.5 550.7,337.5 C552.3,338.5 555.0,341.0 556.6,342.7 C558.2,344.4 559.3,346.3 560.4,347.9 C561.5,349.4 562.6,351.3 563.0,352.0" fill="none" stroke="#1A6FAE" stroke-width="4.30" stroke-linecap="round" stroke-linejoin="round" />
</g>
<path d="M548.7,356.4 C549.7,354.5 550.7,352.6 552.8,351.4 C554.9,350.2 558.4,349.4 561.1,349.3 C563.9,349.2 567.2,349.7 569.3,350.9 C571.4,352.1 573.2,354.1 573.7,356.4 C574.2,358.7 573.5,361.9 572.5,364.6 C571.5,367.3 569.5,370.2 567.6,372.8 C565.7,375.4 563.2,378.0 561.1,380.2 C559.0,382.4 557.5,384.6 555.3,385.8 C553.1,387.0 550.0,387.8 547.9,387.4 C545.8,387.0 543.4,385.2 542.9,383.3 C542.4,381.4 543.8,378.4 544.6,376.1 C545.5,373.8 547.6,371.8 548.0,369.6 C548.4,367.4 547.0,365.2 547.1,363.0 C547.2,360.8 547.8,358.3 548.7,356.4Z" fill="url(#gBlu)" stroke="#1c130f" stroke-width="1.8"/>
<path d="M617.8,404.5 C622.4,408.7 636.3,421.3 645.4,429.5 C654.5,437.7 667.0,448.8 672.5,453.6 C678.0,458.4 676.9,456.7 678.5,458.2 C680.1,459.7 681.7,461.9 682.3,462.6" fill="none" stroke="#1A6FAE" stroke-width="4.30" stroke-linecap="round" stroke-linejoin="round" />
<g id="righthelix"><path d="M669.4,469.2 C670.1,469.9 671.9,472.2 673.6,473.5 C675.3,474.8 677.4,475.8 679.8,476.8 C682.2,477.8 685.7,478.8 687.8,479.4 C689.9,480.0 691.8,480.0 692.6,480.1" fill="none" stroke="#1a1a1a" stroke-width="4.30" stroke-linecap="round" stroke-linejoin="round" /><path d="M691.8,480.0 L692.8,480.2 L693.8,480.3 L694.8,480.5 L695.8,480.7 L696.7,480.9 L697.6,481.1 L698.5,481.3 L699.3,481.6 L700.2,481.9 L701.0,482.3 L701.7,482.7 L702.5,483.1 L703.1,483.5 L703.8,484.0 L704.4,484.5 L705.0,485.1 L705.6,485.7 L706.1,486.3 L706.5,487.0 L707.0,487.7 L707.4,488.4 L707.7,489.2 L708.1,490.0 L708.4,490.8 L708.7,491.7 L708.9,492.6 L709.1,493.5 L709.4,494.5 L709.5,495.4 L709.7,496.4 L709.8,497.4 L710.0,498.4 L710.1,499.4 L710.2,500.4 L710.3,501.5 L710.5,502.5 L710.6,503.5 L710.7,504.6 L710.8,505.6 L711.0,506.6 L711.1,507.6 L711.3,508.6 L711.5,509.5 L711.7,510.5 L711.9,511.4 L712.2,512.3 L712.4,513.1 L712.7,514.0 L713.1,514.8 L713.5,515.5 L713.9,516.3 L714.3,517.0" fill="none" stroke="#1a1a1a" stroke-width="4.30" stroke-linecap="round" stroke-linejoin="round" />
<path d="M714.3,517.0 L714.8,517.6 L715.3,518.3 L715.8,518.9 L716.4,519.4 L717.1,519.9 L717.7,520.4 L718.4,520.9 L719.1,521.3 L719.9,521.7 L720.7,522.0 L721.5,522.3 L722.4,522.6 L723.3,522.8 L724.2,523.1 L725.1,523.3 L726.1,523.4 L727.1,523.6 L728.1,523.7 L729.1,523.9 L730.1,524.0 L731.1,524.1 L732.1,524.2 L733.2,524.3 L734.2,524.4 L735.2,524.5 L736.3,524.6 L737.3,524.8 L738.3,524.9 L739.3,525.0 L740.2,525.2 L741.2,525.4 L742.1,525.6 L743.0,525.8 L743.9,526.1 L744.7,526.4 L745.6,526.7 L746.3,527.1 L747.1,527.5 L747.8,527.9 L748.5,528.3 L749.2,528.8 L749.8,529.4 L750.3,529.9 L750.9,530.5 L751.4,531.2 L751.8,531.8 L752.3,532.6 L752.7,533.3 L753.0,534.1 L753.4,534.9 L753.7,535.7 L753.9,536.6 L754.2,537.5 L754.4,538.4 L754.6,539.4 L754.8,540.4 L754.9,541.3 L755.1,542.3 L755.2,543.4 L755.3,544.4 L755.5,545.4 L755.6,546.4 L755.7,547.5 L755.8,548.5 L755.9,549.5 L756.1,550.5 L756.2,551.5 L756.4,552.5 L756.5,553.5 L756.7,554.5 L756.9,555.4 L757.2,556.3 L757.4,557.2 L757.7,558.1 L758.0,558.9 L758.4,559.7 L758.8,560.4 L759.2,561.2 L759.6,561.9 L760.1,562.5 L760.6,563.1 L761.2,563.7 L761.8,564.3 L762.4,564.8 L763.1,565.2 L763.8,565.7 L764.5,566.1 L765.3,566.4 L766.1,566.8 L767.0,567.1 L767.8,567.4 L768.7,567.6 L769.6,567.8 L770.6,568.0 L771.5,568.2 L772.5,568.3 L773.5,568.5 L774.5,568.6 L775.5,568.7 L776.6,568.8 L777.6,568.9 L778.6,569.0 L779.7,569.1 L780.7,569.3 L781.7,569.4 L782.7,569.5 L783.7,569.6 L784.7,569.8 L785.7,570.0 L786.6,570.2 L787.5,570.4 L788.4,570.6 L789.3,570.9 L790.2,571.2 L791.0,571.5 L791.7,571.9 L792.5,572.3 L793.2,572.7 L793.9,573.2 L794.5,573.7 L795.1,574.2 L795.7,574.8 L796.2,575.4 L796.7,576.0 L797.2,576.7 L797.6,577.4 L798.0,578.2 L798.3,579.0 L798.6,579.8 L798.9,580.7 L799.2,581.5 L799.4,582.5 L799.7,583.4 L799.8,584.3 L800.0,585.3 L800.2,586.3 L800.3,587.3 L800.5,588.3 L800.6,589.3 L800.7,590.4 L800.8,591.4 L800.9,592.4 L801.0,593.5 L801.2,594.5 L801.3,595.5 L801.4,596.5 L801.6,597.5 L801.8,598.5 L802.0,599.4 L802.2,600.3 L802.4,601.3 L802.7,602.1 L803.0,603.0 L803.3,603.8 L803.7,604.6 L804.1,605.3 L804.5,606.1 L805.0,606.7 L805.4,607.4 L806.0,608.0 L806.5,608.6 L807.2,609.1 L807.8,609.6 L808.5,610.1 L809.2,610.5 L809.9,610.9 L810.7,611.2 L811.5,611.6 L812.4,611.9 L813.3,612.1 L814.2,612.4 L815.1,612.6 L816.0,612.8 L817.0,612.9 L818.0,613.1 L819.0,613.2 L820.0,613.3 L821.0,613.5 L822.0,613.6 L823.1,613.7 L824.1,613.8 L825.1,613.9 L826.2,614.0 L827.2,614.1 L828.2,614.2 L829.2,614.4 L830.2,614.5 L831.1,614.7 L832.1,614.9 L833.0,615.1 L833.9,615.4 L834.7,615.7 L835.6,616.0 L836.4,616.3 L837.1,616.7 L837.9,617.1 L838.6,617.5 L839.2,618.0 L839.9,618.5 L840.5,619.0" fill="none" stroke="#D5176F" stroke-width="4.30" stroke-linecap="round" stroke-linejoin="round" />
<path d="M682.3,462.6 L682.8,463.2 L683.3,463.8 L683.8,464.5 L684.3,465.2 L684.7,465.9 L685.1,466.7 L685.4,467.5 L685.7,468.3 L686.0,469.2 L686.3,470.1 L686.5,471.0 L686.7,471.9 L686.9,472.9 L687.1,473.8 L687.2,474.8 L687.4,475.9 L687.5,476.9 L687.6,477.9 L687.7,478.9 L687.8,480.0 L688.0,481.0 L688.1,482.0 L688.2,483.1 L688.3,484.1 L688.5,485.1 L688.7,486.1 L688.8,487.0 L689.0,488.0 L689.3,488.9 L689.5,489.8 L689.8,490.7 L690.1,491.5 L690.4,492.3 L690.8,493.1 L691.2,493.8 L691.6,494.5 L692.1,495.2 L692.6,495.8 L693.2,496.4 L693.8,497.0 L694.4,497.5 L695.0,498.0 L695.7,498.5 L696.5,498.9 L697.2,499.3 L698.0,499.6 L698.8,499.9 L699.7,500.2 L700.6,500.5 L701.5,500.7 L702.4,500.9 L703.4,501.1 L704.4,501.2 L705.4,501.4 L706.4,501.5 L707.4,501.6 L708.4,501.7 L709.4,501.9 L710.5,502.0 L711.5,502.1 L712.5,502.2 L713.6,502.3 L714.6,502.4 L715.6,502.5 L716.6,502.7 L717.6,502.8 L718.5,503.0 L719.4,503.2 L720.4,503.5 L721.2,503.7 L722.1,504.0 L722.9,504.3 L723.7,504.7 L724.5,505.1 L725.2,505.5 L725.9,506.0 L726.5,506.4 L727.1,507.0 L727.7,507.5 L728.3,508.1 L728.8,508.8 L729.2,509.5 L729.7,510.2 L730.1,510.9 L730.4,511.7 L730.8,512.5 L731.1,513.4 L731.3,514.2 L731.6,515.1 L731.8,516.1 L732.0,517.0 L732.2,518.0 L732.3,519.0 L732.5,520.0 L732.6,521.0 L732.7,522.0 L732.9,523.0 L733.0,524.1 L733.1,525.1 L733.2,526.1 L733.3,527.2 L733.5,528.2 L733.6,529.2 L733.8,530.2 L733.9,531.2 L734.1,532.1 L734.3,533.1 L734.6,534.0 L734.8,534.9 L735.1,535.7 L735.4,536.5 L735.8,537.3 L736.2,538.1 L736.6,538.8 L737.0,539.5 L737.5,540.2 L738.1,540.8 L738.6,541.4 L739.2,541.9 L739.9,542.4 L740.5,542.9 L741.2,543.3 L742.0,543.7 L742.7,544.1 L743.6,544.4 L744.4,544.7 L745.3,545.0 L746.2,545.3 L747.1,545.5 L748.0,545.7 L749.0,545.8 L750.0,546.0 L751.0,546.1 L752.0,546.3 L753.0,546.4 L754.0,546.5 L755.1,546.6 L756.1,546.7 L757.2,546.8 L758.2,546.9 L759.2,547.0 L760.2,547.2 L761.2,547.3 L762.2,547.5 L763.2,547.6 L764.1,547.8 L765.0,548.0 L765.9,548.3 L766.8,548.6 L767.6,548.9 L768.5,549.2 L769.2,549.6 L770.0,550.0 L770.7,550.4 L771.3,550.9 L772.0,551.4 L772.6,551.9 L773.1,552.5 L773.7,553.1 L774.2,553.8 L774.6,554.5 L775.0,555.2 L775.4,556.0 L775.8,556.8 L776.1,557.6 L776.4,558.4 L776.6,559.3 L776.9,560.2 L777.1,561.2 L777.3,562.1 L777.4,563.1 L777.6,564.1 L777.7,565.1 L777.9,566.1 L778.0,567.2 L778.1,568.2 L778.2,569.2 L778.3,570.3 L778.5,571.3 L778.6,572.3 L778.7,573.3 L778.9,574.3 L779.0,575.3 L779.2,576.3 L779.4,577.2 L779.6,578.2 L779.9,579.1 L780.1,579.9 L780.4,580.8 L780.8,581.6 L781.1,582.4 L781.5,583.1 L782.0,583.8 L782.4,584.5 L782.9,585.2 L783.5,585.8 L784.1,586.3 L784.7,586.9 L785.3,587.3 L786.0,587.8 L786.7,588.2 L787.5,588.6 L788.3,589.0 L789.1,589.3 L790.0,589.6 L790.8,589.8 L791.8,590.1 L792.7,590.3 L793.6,590.5 L794.6,590.6 L795.6,590.8 L796.6,590.9 L797.6,591.0 L798.7,591.1 L799.7,591.2 L800.7,591.3 L801.8,591.4 L802.8,591.6 L803.8,591.7 L804.8,591.8 L805.8,591.9 L806.8,592.1 L807.8,592.2 L808.8,592.4 L809.7,592.6 L810.6,592.8 L811.5,593.1 L812.4,593.4 L813.2,593.7 L814.0,594.0 L814.7,594.4 L815.5,594.8 L816.2,595.3 L816.8,595.8 L817.4,596.3 L818.0,596.9 L818.6,597.5 L819.1,598.1 L819.6,598.8 L820.0,599.5 L820.4,600.2 L820.8,601.0 L821.1,601.8 L821.4,602.6 L821.7,603.5 L821.9,604.4 L822.2,605.3 L822.4,606.3 L822.5,607.2 L822.7,608.2 L822.9,609.2 L823.0,610.2 L823.1,611.3 L823.2,612.3 L823.4,613.3 L823.5,614.4 L823.6,615.4 L823.7,616.4 L823.8,617.4 L824.0,618.5 L824.1,619.5 L824.3,620.4 L824.5,621.4 L824.7,622.3 L824.9,623.2 L825.2,624.1 L825.5,625.0 L825.8,625.8 L826.1,626.6 L826.5,627.4 L826.9,628.1 L827.4,628.8 L827.9,629.5 L828.4,630.1 L828.9,630.7" fill="none" stroke="#1A6FAE" stroke-width="4.30" stroke-linecap="round" stroke-linejoin="round" />
<path d="M686.5,471.0 L686.7,471.9 L686.9,472.8 L687.0,473.7 L687.2,474.7 L687.3,475.7 L687.5,476.6 L687.6,477.6 L687.7,478.6 L687.8,479.6 L687.9,480.6 L688.0,481.6 L688.1,482.6 L688.3,483.5 L688.4,484.5 L688.6,485.5 L688.7,486.4 L688.9,487.3 L689.1,488.2" fill="none" stroke="#ffffff" stroke-width="6.00" stroke-linecap="butt" stroke-linejoin="round" />
<path d="M685.7,468.2 L686.0,469.0 L686.2,469.9 L686.5,470.8 L686.7,471.7 L686.9,472.6 L687.0,473.6 L687.2,474.6 L687.3,475.6 L687.5,476.6 L687.6,477.6 L687.7,478.6 L687.8,479.6 L687.9,480.6 L688.0,481.6 L688.1,482.6 L688.3,483.6 L688.4,484.6 L688.6,485.6 L688.7,486.6 L688.9,487.5 L689.1,488.4 L689.4,489.3 L689.6,490.2 L689.9,491.0" fill="none" stroke="#1A6FAE" stroke-width="4.30" stroke-linecap="round" stroke-linejoin="round" />
<path d="M709.1,493.3 L709.3,494.2 L709.5,495.1 L709.6,496.1 L709.8,497.0 L709.9,498.0 L710.1,499.0 L710.2,500.0 L710.3,501.0 L710.4,502.0 L710.5,502.9 L710.6,503.9 L710.7,504.9 L710.9,505.9 L711.0,506.9 L711.2,507.8 L711.3,508.8 L711.5,509.7 L711.7,510.6" fill="none" stroke="#ffffff" stroke-width="6.00" stroke-linecap="butt" stroke-linejoin="round" />
<path d="M708.3,490.5 L708.6,491.4 L708.8,492.2 L709.1,493.1 L709.3,494.1 L709.5,495.0 L709.6,496.0 L709.8,496.9 L709.9,497.9 L710.1,498.9 L710.2,499.9 L710.3,500.9 L710.4,502.0 L710.5,503.0 L710.6,504.0 L710.7,505.0 L710.9,506.0 L711.0,507.0 L711.2,507.9 L711.3,508.9 L711.5,509.8 L711.7,510.8 L712.0,511.7 L712.2,512.5 L712.5,513.4" fill="none" stroke="#1a1a1a" stroke-width="4.30" stroke-linecap="round" stroke-linejoin="round" />
<path d="M731.7,515.7 L731.9,516.6 L732.1,517.5 L732.2,518.4 L732.4,519.4 L732.5,520.4 L732.7,521.3 L732.8,522.3 L732.9,523.3 L733.0,524.3 L733.1,525.3 L733.2,526.3 L733.3,527.3 L733.5,528.2 L733.6,529.2 L733.8,530.2 L733.9,531.1 L734.1,532.0 L734.3,532.9" fill="none" stroke="#ffffff" stroke-width="6.00" stroke-linecap="butt" stroke-linejoin="round" />
<path d="M730.9,512.9 L731.2,513.7 L731.4,514.6 L731.7,515.5 L731.9,516.4 L732.1,517.3 L732.2,518.3 L732.4,519.3 L732.5,520.3 L732.7,521.3 L732.8,522.3 L732.9,523.3 L733.0,524.3 L733.1,525.3 L733.2,526.3 L733.3,527.3 L733.5,528.3 L733.6,529.3 L733.8,530.3 L733.9,531.3 L734.1,532.2 L734.3,533.1 L734.6,534.0 L734.8,534.9 L735.1,535.7" fill="none" stroke="#1A6FAE" stroke-width="4.30" stroke-linecap="round" stroke-linejoin="round" />
<path d="M754.3,538.0 L754.5,538.9 L754.7,539.8 L754.8,540.8 L755.0,541.7 L755.1,542.7 L755.3,543.7 L755.4,544.7 L755.5,545.7 L755.6,546.7 L755.7,547.6 L755.8,548.6 L755.9,549.6 L756.1,550.6 L756.2,551.6 L756.4,552.5 L756.5,553.5 L756.7,554.4 L756.9,555.3" fill="none" stroke="#ffffff" stroke-width="6.00" stroke-linecap="butt" stroke-linejoin="round" />
<path d="M753.5,535.2 L753.8,536.1 L754.0,536.9 L754.3,537.8 L754.5,538.8 L754.7,539.7 L754.8,540.7 L755.0,541.6 L755.1,542.6 L755.3,543.6 L755.4,544.6 L755.5,545.6 L755.6,546.7 L755.7,547.7 L755.8,548.7 L755.9,549.7 L756.1,550.7 L756.2,551.7 L756.4,552.6 L756.5,553.6 L756.7,554.5 L756.9,555.5 L757.2,556.4 L757.4,557.2 L757.7,558.1" fill="none" stroke="#D5176F" stroke-width="4.30" stroke-linecap="round" stroke-linejoin="round" />
<path d="M776.9,560.4 L777.1,561.3 L777.3,562.2 L777.4,563.1 L777.6,564.1 L777.7,565.1 L777.9,566.0 L778.0,567.0 L778.1,568.0 L778.2,569.0 L778.3,570.0 L778.4,571.0 L778.5,572.0 L778.7,572.9 L778.8,573.9 L779.0,574.9 L779.1,575.8 L779.3,576.7 L779.5,577.6" fill="none" stroke="#ffffff" stroke-width="6.00" stroke-linecap="butt" stroke-linejoin="round" />
<path d="M776.1,557.6 L776.4,558.4 L776.6,559.3 L776.9,560.2 L777.1,561.1 L777.3,562.0 L777.4,563.0 L777.6,564.0 L777.7,565.0 L777.9,566.0 L778.0,567.0 L778.1,568.0 L778.2,569.0 L778.3,570.0 L778.4,571.0 L778.5,572.0 L778.7,573.0 L778.8,574.0 L779.0,575.0 L779.1,576.0 L779.3,576.9 L779.5,577.8 L779.8,578.7 L780.0,579.6 L780.3,580.4" fill="none" stroke="#1A6FAE" stroke-width="4.30" stroke-linecap="round" stroke-linejoin="round" />
<path d="M799.5,582.7 L799.7,583.6 L799.9,584.5 L800.0,585.5 L800.2,586.4 L800.3,587.4 L800.5,588.4 L800.6,589.4 L800.7,590.4 L800.8,591.4 L800.9,592.3 L801.0,593.3 L801.1,594.3 L801.3,595.3 L801.4,596.3 L801.6,597.2 L801.7,598.2 L801.9,599.1 L802.1,600.0" fill="none" stroke="#ffffff" stroke-width="6.00" stroke-linecap="butt" stroke-linejoin="round" />
<path d="M798.7,579.9 L799.0,580.8 L799.2,581.6 L799.5,582.5 L799.7,583.5 L799.9,584.4 L800.0,585.4 L800.2,586.3 L800.3,587.3 L800.5,588.3 L800.6,589.3 L800.7,590.3 L800.8,591.4 L800.9,592.4 L801.0,593.4 L801.1,594.4 L801.3,595.4 L801.4,596.4 L801.6,597.3 L801.7,598.3 L801.9,599.2 L802.1,600.2 L802.4,601.1 L802.6,601.9 L802.9,602.8" fill="none" stroke="#D5176F" stroke-width="4.30" stroke-linecap="round" stroke-linejoin="round" />
<path d="M822.1,605.1 L822.3,606.0 L822.5,606.9 L822.6,607.8 L822.8,608.8 L822.9,609.8 L823.1,610.7 L823.2,611.7 L823.3,612.7 L823.4,613.7 L823.5,614.7 L823.6,615.7 L823.7,616.7 L823.9,617.6 L824.0,618.6 L824.2,619.6 L824.3,620.5 L824.5,621.4 L824.7,622.3" fill="none" stroke="#ffffff" stroke-width="6.00" stroke-linecap="butt" stroke-linejoin="round" />
<path d="M821.3,602.3 L821.6,603.1 L821.8,604.0 L822.1,604.9 L822.3,605.8 L822.5,606.7 L822.6,607.7 L822.8,608.7 L822.9,609.7 L823.1,610.7 L823.2,611.7 L823.3,612.7 L823.4,613.7 L823.5,614.7 L823.6,615.7 L823.7,616.7 L823.9,617.7 L824.0,618.7 L824.2,619.7 L824.3,620.7 L824.5,621.6 L824.7,622.5 L825.0,623.4 L825.2,624.3 L825.5,625.1" fill="none" stroke="#1A6FAE" stroke-width="4.30" stroke-linecap="round" stroke-linejoin="round" /></g>
<ellipse cx="0" cy="0" rx="12.5" ry="8.5" transform="translate(673.0,454.0) rotate(-43)" fill="url(#gSSB)" stroke="#0f1f17" stroke-width="2.3"/>
<ellipse cx="0" cy="0" rx="12.5" ry="8.5" transform="translate(659.1,442.0) rotate(-43)" fill="url(#gSSB)" stroke="#0f1f17" stroke-width="2.3"/>
<ellipse cx="0" cy="0" rx="12.5" ry="8.5" transform="translate(645.7,429.5) rotate(-43)" fill="url(#gSSB)" stroke="#0f1f17" stroke-width="2.3"/>
<ellipse cx="0" cy="0" rx="12.5" ry="8.5" transform="translate(631.7,417.8) rotate(-43)" fill="url(#gSSB)" stroke="#0f1f17" stroke-width="2.3"/>
<ellipse cx="0" cy="0" rx="12.5" ry="8.5" transform="translate(618.2,404.7) rotate(-43)" fill="url(#gSSB)" stroke="#0f1f17" stroke-width="2.3"/>
<text x="282.3" y="198.2" font-size="25.0" text-anchor="start" fill="#111" textLength="103.3" lengthAdjust="spacingAndGlyphs" stroke="#111" stroke-width="0.7" stroke-linejoin="round">Helicase</text>
<text x="212.1" y="301.8" font-size="25.0" text-anchor="start" fill="#111" textLength="86.9" lengthAdjust="spacingAndGlyphs" stroke="#111" stroke-width="0.7" stroke-linejoin="round">Sliding</text>
<text x="218.1" y="328.7" font-size="25.0" text-anchor="start" fill="#111" textLength="74.9" lengthAdjust="spacingAndGlyphs" stroke="#111" stroke-width="0.7" stroke-linejoin="round">clamp</text>
<text x="355.8" y="365.8" font-size="25.0" text-anchor="start" fill="#111" textLength="56.4" lengthAdjust="spacingAndGlyphs" stroke="#111" stroke-width="0.7" stroke-linejoin="round">DNA</text>
<text x="311.2" y="393.5" font-size="25.0" text-anchor="start" fill="#111" textLength="144.9" lengthAdjust="spacingAndGlyphs" stroke="#111" stroke-width="0.7" stroke-linejoin="round">polymerase</text>
<text x="442.8" y="330.8" font-size="25.0" text-anchor="start" fill="#111" textLength="53.4" lengthAdjust="spacingAndGlyphs" stroke="#111" stroke-width="0.7" stroke-linejoin="round">RNA</text>
<text x="427.7" y="358.3" font-size="25.0" text-anchor="start" fill="#111" textLength="83.5" lengthAdjust="spacingAndGlyphs" stroke="#111" stroke-width="0.7" stroke-linejoin="round">primer</text>
<text x="511.8" y="264.6" font-size="26.0" text-anchor="start" fill="#109A56" textLength="46.4" lengthAdjust="spacingAndGlyphs" stroke="#109A56" stroke-width="0.7" stroke-linejoin="round">SSB</text>
<text x="46.3" y="400.7" font-size="27.5" text-anchor="start" fill="#111" textLength="112.5" lengthAdjust="spacingAndGlyphs" stroke="#111" stroke-width="1.3" stroke-linejoin="round">Leading</text>
<text x="56.5" y="436.9" font-size="27.5" text-anchor="start" fill="#111" textLength="92.0" lengthAdjust="spacingAndGlyphs" stroke="#111" stroke-width="1.3" stroke-linejoin="round">strand</text>
<text x="710.0" y="400.7" font-size="27.5" text-anchor="start" fill="#111" textLength="113.9" lengthAdjust="spacingAndGlyphs" stroke="#111" stroke-width="1.3" stroke-linejoin="round">Lagging</text>
<text x="721.3" y="436.9" font-size="27.5" text-anchor="start" fill="#111" textLength="91.2" lengthAdjust="spacingAndGlyphs" stroke="#111" stroke-width="1.3" stroke-linejoin="round">strand</text>
<text x="410.8" y="23.4" font-size="21.5" text-anchor="start" fill="#111" textLength="17.6" lengthAdjust="spacingAndGlyphs" stroke="#111" stroke-width="0.7" stroke-linejoin="round">5′</text>
<text x="434.4" y="23.4" font-size="21.5" text-anchor="start" fill="#111" textLength="17.6" lengthAdjust="spacingAndGlyphs" stroke="#111" stroke-width="0.7" stroke-linejoin="round">3′</text>
<text x="9.0" y="631.2" font-size="21.5" text-anchor="start" fill="#111" textLength="18.0" lengthAdjust="spacingAndGlyphs" stroke="#111" stroke-width="0.7" stroke-linejoin="round">5′</text>
<text x="31.6" y="646.8" font-size="21.5" text-anchor="start" fill="#111" textLength="18.0" lengthAdjust="spacingAndGlyphs" stroke="#111" stroke-width="0.7" stroke-linejoin="round">3′</text>
<text x="846.6" y="628.4" font-size="21.5" text-anchor="start" fill="#111" textLength="18.6" lengthAdjust="spacingAndGlyphs" stroke="#111" stroke-width="0.7" stroke-linejoin="round">3′</text>
<text x="830.3" y="649.0" font-size="21.5" text-anchor="start" fill="#111" textLength="18.4" lengthAdjust="spacingAndGlyphs" stroke="#111" stroke-width="0.7" stroke-linejoin="round">5′</text>
<text x="8" y="677.6" font-size="11" style="font-weight:normal" fill="#c9c9c9">Figure 25-13 part 1</text>
</svg>
</body></html>
